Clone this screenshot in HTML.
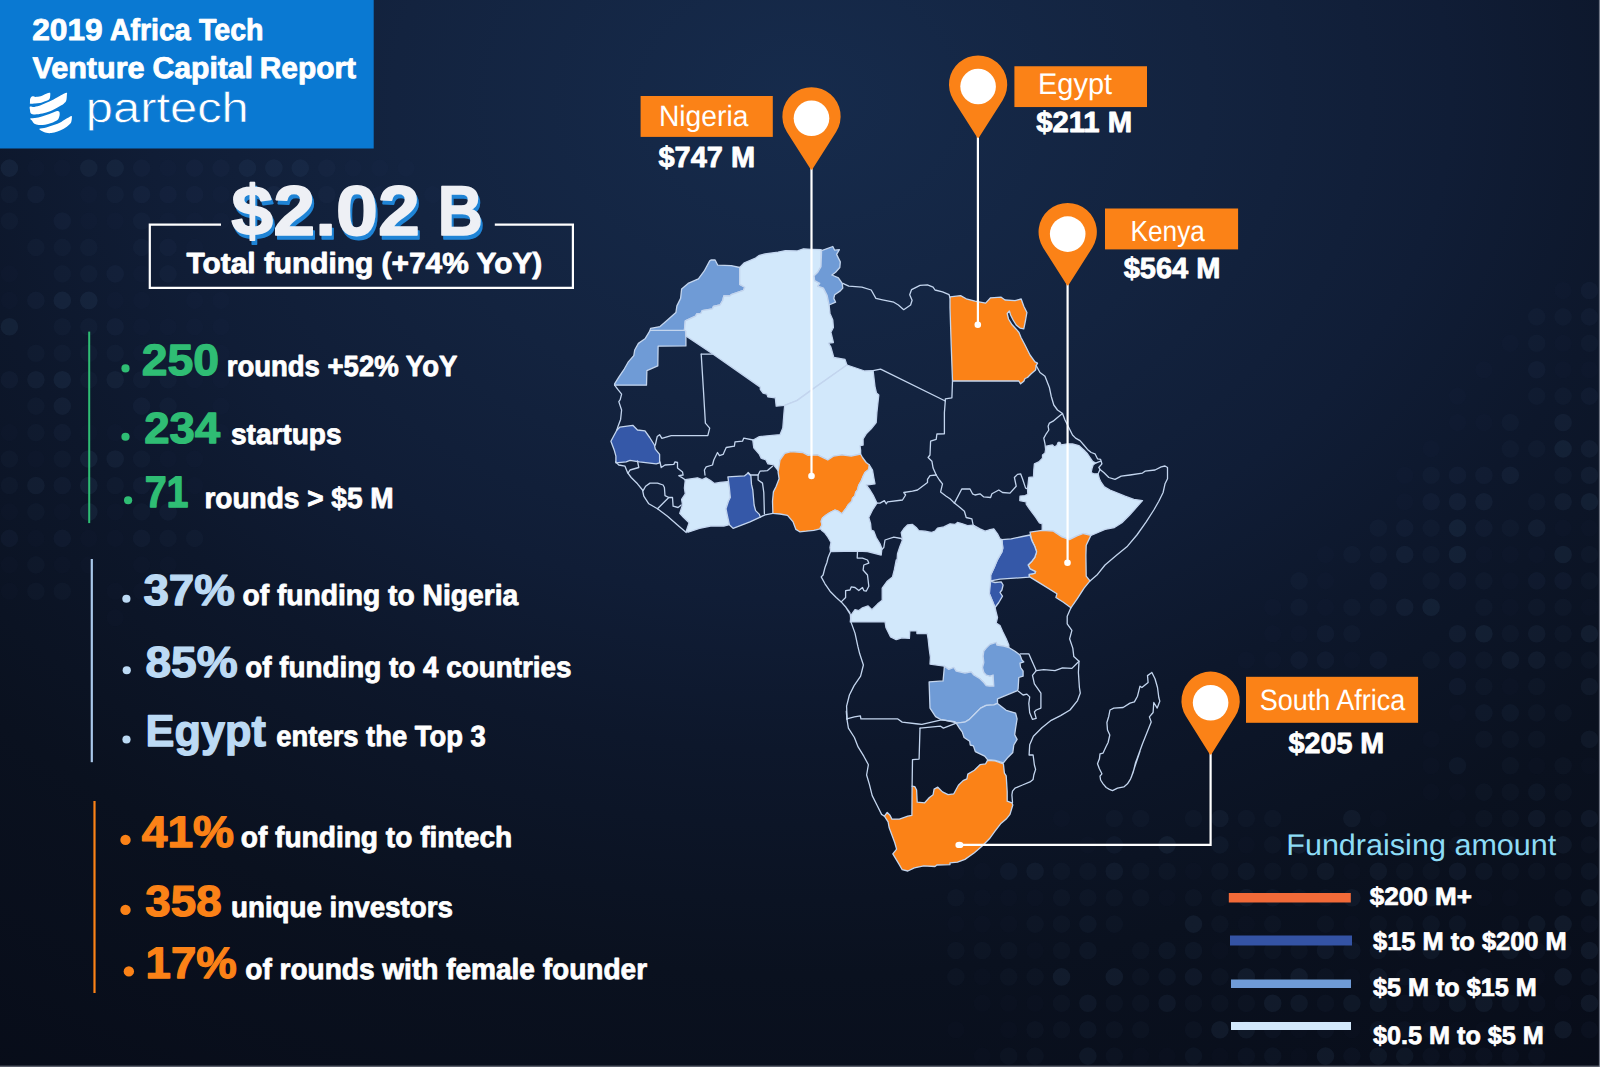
<!DOCTYPE html>
<html lang="en"><head><meta charset="utf-8"><title>2019 Africa Tech Venture Capital Report</title>
<style>
html,body{margin:0;padding:0;background:#0a1020;}
body{width:1600px;height:1067px;overflow:hidden;}
svg{display:block;font-family:"Liberation Sans",sans-serif;text-rendering:geometricPrecision;}
</style></head><body>
<svg width="1600" height="1067" viewBox="0 0 1600 1067">
<defs>
<radialGradient id="bg" gradientUnits="userSpaceOnUse" cx="800" cy="100" r="1250" gradientTransform="translate(800 0) scale(1.3 1) translate(-800 0)">
<stop offset="0" stop-color="#162b4c"/><stop offset="0.25" stop-color="#13233f"/><stop offset="0.4" stop-color="#101d36"/>
<stop offset="0.52" stop-color="#0d172b"/><stop offset="0.7" stop-color="#0a111f"/><stop offset="1" stop-color="#070b17"/>
</radialGradient>
<pattern id="dots" x="-3.8" y="154.9" width="26.45" height="26.45" patternUnits="userSpaceOnUse">
<circle cx="13.2" cy="13.2" r="8.8" fill="#5f86b8"/></pattern>
<radialGradient id="m1" gradientUnits="userSpaceOnUse" cx="230" cy="330" r="480" gradientTransform="translate(230 330) scale(1 0.75) translate(-230 -330)">
<stop offset="0" stop-color="#fff"/><stop offset="0.6" stop-color="#fff" stop-opacity="0.6"/><stop offset="1" stop-color="#fff" stop-opacity="0"/></radialGradient>
<radialGradient id="m2" gradientUnits="userSpaceOnUse" cx="1420" cy="900" r="420">
<stop offset="0" stop-color="#fff"/><stop offset="0.6" stop-color="#fff" stop-opacity="0.7"/><stop offset="1" stop-color="#fff" stop-opacity="0"/></radialGradient>
<filter id="sh" x="-5%" y="-20%" width="110%" height="150%" color-interpolation-filters="sRGB"><feOffset in="SourceAlpha" dx="2.3" dy="3.9" result="o"/><feFlood flood-color="#1f84d6"/><feComposite in2="o" operator="in"/><feMerge><feMergeNode/><feMergeNode in="SourceGraphic"/></feMerge></filter>
<mask id="dm" maskUnits="userSpaceOnUse" x="0" y="0" width="1600" height="1067">
<rect width="1600" height="1067" fill="url(#m1)"/><rect width="1600" height="1067" fill="url(#m2)"/></mask>
</defs>
<rect width="1600" height="1067" fill="url(#bg)"/>
<g fill="#6a93c8"><path opacity="0.017" d="M0.6 273.9a8.8 8.8 0 1 0 17.6 0a8.8 8.8 0 1 0-17.6 0M0.6 300.4a8.8 8.8 0 1 0 17.6 0a8.8 8.8 0 1 0-17.6 0M0.6 432.6a8.8 8.8 0 1 0 17.6 0a8.8 8.8 0 1 0-17.6 0M0.6 511.9a8.8 8.8 0 1 0 17.6 0a8.8 8.8 0 1 0-17.6 0M0.6 564.9a8.8 8.8 0 1 0 17.6 0a8.8 8.8 0 1 0-17.6 0M0.6 591.3a8.8 8.8 0 1 0 17.6 0a8.8 8.8 0 1 0-17.6 0M27.1 168.1a8.8 8.8 0 1 0 17.6 0a8.8 8.8 0 1 0-17.6 0M27.1 459.0a8.8 8.8 0 1 0 17.6 0a8.8 8.8 0 1 0-17.6 0M27.1 538.4a8.8 8.8 0 1 0 17.6 0a8.8 8.8 0 1 0-17.6 0M53.5 168.1a8.8 8.8 0 1 0 17.6 0a8.8 8.8 0 1 0-17.6 0M53.5 511.9a8.8 8.8 0 1 0 17.6 0a8.8 8.8 0 1 0-17.6 0M53.5 564.9a8.8 8.8 0 1 0 17.6 0a8.8 8.8 0 1 0-17.6 0M80.0 194.5a8.8 8.8 0 1 0 17.6 0a8.8 8.8 0 1 0-17.6 0M80.0 221.0a8.8 8.8 0 1 0 17.6 0a8.8 8.8 0 1 0-17.6 0M80.0 432.6a8.8 8.8 0 1 0 17.6 0a8.8 8.8 0 1 0-17.6 0M80.0 538.4a8.8 8.8 0 1 0 17.6 0a8.8 8.8 0 1 0-17.6 0M80.0 564.9a8.8 8.8 0 1 0 17.6 0a8.8 8.8 0 1 0-17.6 0M106.4 221.0a8.8 8.8 0 1 0 17.6 0a8.8 8.8 0 1 0-17.6 0M106.4 300.4a8.8 8.8 0 1 0 17.6 0a8.8 8.8 0 1 0-17.6 0M106.4 432.6a8.8 8.8 0 1 0 17.6 0a8.8 8.8 0 1 0-17.6 0M106.4 511.9a8.8 8.8 0 1 0 17.6 0a8.8 8.8 0 1 0-17.6 0M106.4 538.4a8.8 8.8 0 1 0 17.6 0a8.8 8.8 0 1 0-17.6 0M106.4 591.3a8.8 8.8 0 1 0 17.6 0a8.8 8.8 0 1 0-17.6 0M106.4 617.8a8.8 8.8 0 1 0 17.6 0a8.8 8.8 0 1 0-17.6 0M132.8 273.9a8.8 8.8 0 1 0 17.6 0a8.8 8.8 0 1 0-17.6 0M132.8 300.4a8.8 8.8 0 1 0 17.6 0a8.8 8.8 0 1 0-17.6 0M132.8 326.8a8.8 8.8 0 1 0 17.6 0a8.8 8.8 0 1 0-17.6 0M132.8 353.2a8.8 8.8 0 1 0 17.6 0a8.8 8.8 0 1 0-17.6 0M132.8 432.6a8.8 8.8 0 1 0 17.6 0a8.8 8.8 0 1 0-17.6 0M132.8 564.9a8.8 8.8 0 1 0 17.6 0a8.8 8.8 0 1 0-17.6 0M132.8 591.3a8.8 8.8 0 1 0 17.6 0a8.8 8.8 0 1 0-17.6 0M159.3 168.1a8.8 8.8 0 1 0 17.6 0a8.8 8.8 0 1 0-17.6 0M159.3 221.0a8.8 8.8 0 1 0 17.6 0a8.8 8.8 0 1 0-17.6 0M159.3 326.8a8.8 8.8 0 1 0 17.6 0a8.8 8.8 0 1 0-17.6 0M159.3 353.2a8.8 8.8 0 1 0 17.6 0a8.8 8.8 0 1 0-17.6 0M159.3 459.0a8.8 8.8 0 1 0 17.6 0a8.8 8.8 0 1 0-17.6 0M159.3 485.5a8.8 8.8 0 1 0 17.6 0a8.8 8.8 0 1 0-17.6 0M159.3 564.9a8.8 8.8 0 1 0 17.6 0a8.8 8.8 0 1 0-17.6 0M185.8 221.0a8.8 8.8 0 1 0 17.6 0a8.8 8.8 0 1 0-17.6 0M185.8 247.4a8.8 8.8 0 1 0 17.6 0a8.8 8.8 0 1 0-17.6 0M185.8 300.4a8.8 8.8 0 1 0 17.6 0a8.8 8.8 0 1 0-17.6 0M185.8 326.8a8.8 8.8 0 1 0 17.6 0a8.8 8.8 0 1 0-17.6 0M185.8 379.7a8.8 8.8 0 1 0 17.6 0a8.8 8.8 0 1 0-17.6 0M185.8 432.6a8.8 8.8 0 1 0 17.6 0a8.8 8.8 0 1 0-17.6 0M185.8 459.0a8.8 8.8 0 1 0 17.6 0a8.8 8.8 0 1 0-17.6 0M185.8 485.5a8.8 8.8 0 1 0 17.6 0a8.8 8.8 0 1 0-17.6 0M212.2 194.5a8.8 8.8 0 1 0 17.6 0a8.8 8.8 0 1 0-17.6 0M212.2 221.0a8.8 8.8 0 1 0 17.6 0a8.8 8.8 0 1 0-17.6 0M212.2 300.4a8.8 8.8 0 1 0 17.6 0a8.8 8.8 0 1 0-17.6 0M212.2 326.8a8.8 8.8 0 1 0 17.6 0a8.8 8.8 0 1 0-17.6 0M212.2 353.2a8.8 8.8 0 1 0 17.6 0a8.8 8.8 0 1 0-17.6 0M212.2 379.7a8.8 8.8 0 1 0 17.6 0a8.8 8.8 0 1 0-17.6 0M212.2 406.1a8.8 8.8 0 1 0 17.6 0a8.8 8.8 0 1 0-17.6 0M212.2 432.6a8.8 8.8 0 1 0 17.6 0a8.8 8.8 0 1 0-17.6 0M238.6 194.5a8.8 8.8 0 1 0 17.6 0a8.8 8.8 0 1 0-17.6 0M238.6 273.9a8.8 8.8 0 1 0 17.6 0a8.8 8.8 0 1 0-17.6 0M238.6 432.6a8.8 8.8 0 1 0 17.6 0a8.8 8.8 0 1 0-17.6 0M344.4 168.1a8.8 8.8 0 1 0 17.6 0a8.8 8.8 0 1 0-17.6 0M370.9 168.1a8.8 8.8 0 1 0 17.6 0a8.8 8.8 0 1 0-17.6 0M370.9 194.5a8.8 8.8 0 1 0 17.6 0a8.8 8.8 0 1 0-17.6 0M397.3 168.1a8.8 8.8 0 1 0 17.6 0a8.8 8.8 0 1 0-17.6 0M423.8 194.5a8.8 8.8 0 1 0 17.6 0a8.8 8.8 0 1 0-17.6 0M947.1 871.3a8.8 8.8 0 1 0 17.6 0a8.8 8.8 0 1 0-17.6 0M947.1 924.1a8.8 8.8 0 1 0 17.6 0a8.8 8.8 0 1 0-17.6 0M947.1 1029.7a8.8 8.8 0 1 0 17.6 0a8.8 8.8 0 1 0-17.6 0M973.5 871.3a8.8 8.8 0 1 0 17.6 0a8.8 8.8 0 1 0-17.6 0M973.5 897.7a8.8 8.8 0 1 0 17.6 0a8.8 8.8 0 1 0-17.6 0M973.5 924.1a8.8 8.8 0 1 0 17.6 0a8.8 8.8 0 1 0-17.6 0M973.5 976.9a8.8 8.8 0 1 0 17.6 0a8.8 8.8 0 1 0-17.6 0M973.5 1003.3a8.8 8.8 0 1 0 17.6 0a8.8 8.8 0 1 0-17.6 0M973.5 1056.1a8.8 8.8 0 1 0 17.6 0a8.8 8.8 0 1 0-17.6 0M999.9 897.7a8.8 8.8 0 1 0 17.6 0a8.8 8.8 0 1 0-17.6 0M999.9 924.1a8.8 8.8 0 1 0 17.6 0a8.8 8.8 0 1 0-17.6 0M999.9 1003.3a8.8 8.8 0 1 0 17.6 0a8.8 8.8 0 1 0-17.6 0M999.9 1029.7a8.8 8.8 0 1 0 17.6 0a8.8 8.8 0 1 0-17.6 0M1026.3 897.7a8.8 8.8 0 1 0 17.6 0a8.8 8.8 0 1 0-17.6 0M1026.3 950.5a8.8 8.8 0 1 0 17.6 0a8.8 8.8 0 1 0-17.6 0M1026.3 1003.3a8.8 8.8 0 1 0 17.6 0a8.8 8.8 0 1 0-17.6 0M1052.7 818.5a8.8 8.8 0 1 0 17.6 0a8.8 8.8 0 1 0-17.6 0M1079.1 844.9a8.8 8.8 0 1 0 17.6 0a8.8 8.8 0 1 0-17.6 0M1131.9 1056.1a8.8 8.8 0 1 0 17.6 0a8.8 8.8 0 1 0-17.6 0M1158.3 897.7a8.8 8.8 0 1 0 17.6 0a8.8 8.8 0 1 0-17.6 0M1158.3 1056.1a8.8 8.8 0 1 0 17.6 0a8.8 8.8 0 1 0-17.6 0M1184.7 871.3a8.8 8.8 0 1 0 17.6 0a8.8 8.8 0 1 0-17.6 0M1211.1 950.5a8.8 8.8 0 1 0 17.6 0a8.8 8.8 0 1 0-17.6 0M1211.1 1056.1a8.8 8.8 0 1 0 17.6 0a8.8 8.8 0 1 0-17.6 0M1237.5 660.1a8.8 8.8 0 1 0 17.6 0a8.8 8.8 0 1 0-17.6 0M1237.5 844.9a8.8 8.8 0 1 0 17.6 0a8.8 8.8 0 1 0-17.6 0M1237.5 924.1a8.8 8.8 0 1 0 17.6 0a8.8 8.8 0 1 0-17.6 0M1263.9 607.3a8.8 8.8 0 1 0 17.6 0a8.8 8.8 0 1 0-17.6 0M1263.9 633.7a8.8 8.8 0 1 0 17.6 0a8.8 8.8 0 1 0-17.6 0M1263.9 660.1a8.8 8.8 0 1 0 17.6 0a8.8 8.8 0 1 0-17.6 0M1290.3 633.7a8.8 8.8 0 1 0 17.6 0a8.8 8.8 0 1 0-17.6 0M1290.3 1029.7a8.8 8.8 0 1 0 17.6 0a8.8 8.8 0 1 0-17.6 0M1290.3 1056.1a8.8 8.8 0 1 0 17.6 0a8.8 8.8 0 1 0-17.6 0M1316.7 554.5a8.8 8.8 0 1 0 17.6 0a8.8 8.8 0 1 0-17.6 0M1316.7 580.9a8.8 8.8 0 1 0 17.6 0a8.8 8.8 0 1 0-17.6 0M1316.7 607.3a8.8 8.8 0 1 0 17.6 0a8.8 8.8 0 1 0-17.6 0M1343.1 660.1a8.8 8.8 0 1 0 17.6 0a8.8 8.8 0 1 0-17.6 0M1343.1 871.3a8.8 8.8 0 1 0 17.6 0a8.8 8.8 0 1 0-17.6 0M1343.1 924.1a8.8 8.8 0 1 0 17.6 0a8.8 8.8 0 1 0-17.6 0M1343.1 976.9a8.8 8.8 0 1 0 17.6 0a8.8 8.8 0 1 0-17.6 0M1343.1 1029.7a8.8 8.8 0 1 0 17.6 0a8.8 8.8 0 1 0-17.6 0M1369.5 818.5a8.8 8.8 0 1 0 17.6 0a8.8 8.8 0 1 0-17.6 0M1395.9 475.3a8.8 8.8 0 1 0 17.6 0a8.8 8.8 0 1 0-17.6 0M1395.9 501.7a8.8 8.8 0 1 0 17.6 0a8.8 8.8 0 1 0-17.6 0M1395.9 950.5a8.8 8.8 0 1 0 17.6 0a8.8 8.8 0 1 0-17.6 0M1422.3 448.9a8.8 8.8 0 1 0 17.6 0a8.8 8.8 0 1 0-17.6 0M1422.3 739.3a8.8 8.8 0 1 0 17.6 0a8.8 8.8 0 1 0-17.6 0M1422.3 765.7a8.8 8.8 0 1 0 17.6 0a8.8 8.8 0 1 0-17.6 0M1422.3 792.1a8.8 8.8 0 1 0 17.6 0a8.8 8.8 0 1 0-17.6 0M1422.3 844.9a8.8 8.8 0 1 0 17.6 0a8.8 8.8 0 1 0-17.6 0M1448.7 396.1a8.8 8.8 0 1 0 17.6 0a8.8 8.8 0 1 0-17.6 0M1448.7 422.5a8.8 8.8 0 1 0 17.6 0a8.8 8.8 0 1 0-17.6 0M1448.7 712.9a8.8 8.8 0 1 0 17.6 0a8.8 8.8 0 1 0-17.6 0M1448.7 792.1a8.8 8.8 0 1 0 17.6 0a8.8 8.8 0 1 0-17.6 0M1448.7 818.5a8.8 8.8 0 1 0 17.6 0a8.8 8.8 0 1 0-17.6 0M1448.7 976.9a8.8 8.8 0 1 0 17.6 0a8.8 8.8 0 1 0-17.6 0M1448.7 1029.7a8.8 8.8 0 1 0 17.6 0a8.8 8.8 0 1 0-17.6 0M1475.1 369.7a8.8 8.8 0 1 0 17.6 0a8.8 8.8 0 1 0-17.6 0M1475.1 422.5a8.8 8.8 0 1 0 17.6 0a8.8 8.8 0 1 0-17.6 0M1475.1 554.5a8.8 8.8 0 1 0 17.6 0a8.8 8.8 0 1 0-17.6 0M1475.1 897.7a8.8 8.8 0 1 0 17.6 0a8.8 8.8 0 1 0-17.6 0M1475.1 1029.7a8.8 8.8 0 1 0 17.6 0a8.8 8.8 0 1 0-17.6 0M1501.5 343.3a8.8 8.8 0 1 0 17.6 0a8.8 8.8 0 1 0-17.6 0M1501.5 554.5a8.8 8.8 0 1 0 17.6 0a8.8 8.8 0 1 0-17.6 0M1501.5 580.9a8.8 8.8 0 1 0 17.6 0a8.8 8.8 0 1 0-17.6 0M1501.5 607.3a8.8 8.8 0 1 0 17.6 0a8.8 8.8 0 1 0-17.6 0M1501.5 686.5a8.8 8.8 0 1 0 17.6 0a8.8 8.8 0 1 0-17.6 0M1501.5 897.7a8.8 8.8 0 1 0 17.6 0a8.8 8.8 0 1 0-17.6 0M1501.5 1029.7a8.8 8.8 0 1 0 17.6 0a8.8 8.8 0 1 0-17.6 0M1527.9 554.5a8.8 8.8 0 1 0 17.6 0a8.8 8.8 0 1 0-17.6 0M1527.9 765.7a8.8 8.8 0 1 0 17.6 0a8.8 8.8 0 1 0-17.6 0M1527.9 844.9a8.8 8.8 0 1 0 17.6 0a8.8 8.8 0 1 0-17.6 0M1527.9 976.9a8.8 8.8 0 1 0 17.6 0a8.8 8.8 0 1 0-17.6 0M1554.3 290.5a8.8 8.8 0 1 0 17.6 0a8.8 8.8 0 1 0-17.6 0M1554.3 343.3a8.8 8.8 0 1 0 17.6 0a8.8 8.8 0 1 0-17.6 0M1554.3 369.7a8.8 8.8 0 1 0 17.6 0a8.8 8.8 0 1 0-17.6 0M1554.3 528.1a8.8 8.8 0 1 0 17.6 0a8.8 8.8 0 1 0-17.6 0M1554.3 1003.3a8.8 8.8 0 1 0 17.6 0a8.8 8.8 0 1 0-17.6 0M1580.7 369.7a8.8 8.8 0 1 0 17.6 0a8.8 8.8 0 1 0-17.6 0M1580.7 528.1a8.8 8.8 0 1 0 17.6 0a8.8 8.8 0 1 0-17.6 0M1580.7 607.3a8.8 8.8 0 1 0 17.6 0a8.8 8.8 0 1 0-17.6 0M1580.7 765.7a8.8 8.8 0 1 0 17.6 0a8.8 8.8 0 1 0-17.6 0"/><path opacity="0.034" d="M0.6 194.5a8.8 8.8 0 1 0 17.6 0a8.8 8.8 0 1 0-17.6 0M0.6 221.0a8.8 8.8 0 1 0 17.6 0a8.8 8.8 0 1 0-17.6 0M0.6 459.0a8.8 8.8 0 1 0 17.6 0a8.8 8.8 0 1 0-17.6 0M0.6 485.5a8.8 8.8 0 1 0 17.6 0a8.8 8.8 0 1 0-17.6 0M27.1 247.4a8.8 8.8 0 1 0 17.6 0a8.8 8.8 0 1 0-17.6 0M27.1 353.2a8.8 8.8 0 1 0 17.6 0a8.8 8.8 0 1 0-17.6 0M27.1 406.1a8.8 8.8 0 1 0 17.6 0a8.8 8.8 0 1 0-17.6 0M27.1 432.6a8.8 8.8 0 1 0 17.6 0a8.8 8.8 0 1 0-17.6 0M27.1 511.9a8.8 8.8 0 1 0 17.6 0a8.8 8.8 0 1 0-17.6 0M27.1 564.9a8.8 8.8 0 1 0 17.6 0a8.8 8.8 0 1 0-17.6 0M27.1 591.3a8.8 8.8 0 1 0 17.6 0a8.8 8.8 0 1 0-17.6 0M53.5 247.4a8.8 8.8 0 1 0 17.6 0a8.8 8.8 0 1 0-17.6 0M53.5 273.9a8.8 8.8 0 1 0 17.6 0a8.8 8.8 0 1 0-17.6 0M53.5 326.8a8.8 8.8 0 1 0 17.6 0a8.8 8.8 0 1 0-17.6 0M53.5 353.2a8.8 8.8 0 1 0 17.6 0a8.8 8.8 0 1 0-17.6 0M53.5 459.0a8.8 8.8 0 1 0 17.6 0a8.8 8.8 0 1 0-17.6 0M53.5 591.3a8.8 8.8 0 1 0 17.6 0a8.8 8.8 0 1 0-17.6 0M80.0 247.4a8.8 8.8 0 1 0 17.6 0a8.8 8.8 0 1 0-17.6 0M80.0 273.9a8.8 8.8 0 1 0 17.6 0a8.8 8.8 0 1 0-17.6 0M80.0 326.8a8.8 8.8 0 1 0 17.6 0a8.8 8.8 0 1 0-17.6 0M80.0 353.2a8.8 8.8 0 1 0 17.6 0a8.8 8.8 0 1 0-17.6 0M80.0 379.7a8.8 8.8 0 1 0 17.6 0a8.8 8.8 0 1 0-17.6 0M106.4 194.5a8.8 8.8 0 1 0 17.6 0a8.8 8.8 0 1 0-17.6 0M106.4 353.2a8.8 8.8 0 1 0 17.6 0a8.8 8.8 0 1 0-17.6 0M106.4 485.5a8.8 8.8 0 1 0 17.6 0a8.8 8.8 0 1 0-17.6 0M132.8 168.1a8.8 8.8 0 1 0 17.6 0a8.8 8.8 0 1 0-17.6 0M132.8 221.0a8.8 8.8 0 1 0 17.6 0a8.8 8.8 0 1 0-17.6 0M132.8 247.4a8.8 8.8 0 1 0 17.6 0a8.8 8.8 0 1 0-17.6 0M132.8 379.7a8.8 8.8 0 1 0 17.6 0a8.8 8.8 0 1 0-17.6 0M132.8 459.0a8.8 8.8 0 1 0 17.6 0a8.8 8.8 0 1 0-17.6 0M132.8 511.9a8.8 8.8 0 1 0 17.6 0a8.8 8.8 0 1 0-17.6 0M159.3 194.5a8.8 8.8 0 1 0 17.6 0a8.8 8.8 0 1 0-17.6 0M159.3 247.4a8.8 8.8 0 1 0 17.6 0a8.8 8.8 0 1 0-17.6 0M159.3 273.9a8.8 8.8 0 1 0 17.6 0a8.8 8.8 0 1 0-17.6 0M159.3 379.7a8.8 8.8 0 1 0 17.6 0a8.8 8.8 0 1 0-17.6 0M159.3 406.1a8.8 8.8 0 1 0 17.6 0a8.8 8.8 0 1 0-17.6 0M159.3 538.4a8.8 8.8 0 1 0 17.6 0a8.8 8.8 0 1 0-17.6 0M185.8 168.1a8.8 8.8 0 1 0 17.6 0a8.8 8.8 0 1 0-17.6 0M185.8 194.5a8.8 8.8 0 1 0 17.6 0a8.8 8.8 0 1 0-17.6 0M185.8 538.4a8.8 8.8 0 1 0 17.6 0a8.8 8.8 0 1 0-17.6 0M212.2 168.1a8.8 8.8 0 1 0 17.6 0a8.8 8.8 0 1 0-17.6 0M291.5 194.5a8.8 8.8 0 1 0 17.6 0a8.8 8.8 0 1 0-17.6 0M318.0 168.1a8.8 8.8 0 1 0 17.6 0a8.8 8.8 0 1 0-17.6 0M318.0 194.5a8.8 8.8 0 1 0 17.6 0a8.8 8.8 0 1 0-17.6 0M344.4 194.5a8.8 8.8 0 1 0 17.6 0a8.8 8.8 0 1 0-17.6 0M947.1 897.7a8.8 8.8 0 1 0 17.6 0a8.8 8.8 0 1 0-17.6 0M947.1 950.5a8.8 8.8 0 1 0 17.6 0a8.8 8.8 0 1 0-17.6 0M947.1 976.9a8.8 8.8 0 1 0 17.6 0a8.8 8.8 0 1 0-17.6 0M973.5 950.5a8.8 8.8 0 1 0 17.6 0a8.8 8.8 0 1 0-17.6 0M999.9 950.5a8.8 8.8 0 1 0 17.6 0a8.8 8.8 0 1 0-17.6 0M999.9 976.9a8.8 8.8 0 1 0 17.6 0a8.8 8.8 0 1 0-17.6 0M999.9 1056.1a8.8 8.8 0 1 0 17.6 0a8.8 8.8 0 1 0-17.6 0M1026.3 924.1a8.8 8.8 0 1 0 17.6 0a8.8 8.8 0 1 0-17.6 0M1026.3 976.9a8.8 8.8 0 1 0 17.6 0a8.8 8.8 0 1 0-17.6 0M1026.3 1029.7a8.8 8.8 0 1 0 17.6 0a8.8 8.8 0 1 0-17.6 0M1026.3 1056.1a8.8 8.8 0 1 0 17.6 0a8.8 8.8 0 1 0-17.6 0M1052.7 871.3a8.8 8.8 0 1 0 17.6 0a8.8 8.8 0 1 0-17.6 0M1052.7 897.7a8.8 8.8 0 1 0 17.6 0a8.8 8.8 0 1 0-17.6 0M1052.7 924.1a8.8 8.8 0 1 0 17.6 0a8.8 8.8 0 1 0-17.6 0M1052.7 950.5a8.8 8.8 0 1 0 17.6 0a8.8 8.8 0 1 0-17.6 0M1052.7 1003.3a8.8 8.8 0 1 0 17.6 0a8.8 8.8 0 1 0-17.6 0M1052.7 1029.7a8.8 8.8 0 1 0 17.6 0a8.8 8.8 0 1 0-17.6 0M1079.1 871.3a8.8 8.8 0 1 0 17.6 0a8.8 8.8 0 1 0-17.6 0M1079.1 897.7a8.8 8.8 0 1 0 17.6 0a8.8 8.8 0 1 0-17.6 0M1105.5 818.5a8.8 8.8 0 1 0 17.6 0a8.8 8.8 0 1 0-17.6 0M1105.5 897.7a8.8 8.8 0 1 0 17.6 0a8.8 8.8 0 1 0-17.6 0M1105.5 924.1a8.8 8.8 0 1 0 17.6 0a8.8 8.8 0 1 0-17.6 0M1105.5 1003.3a8.8 8.8 0 1 0 17.6 0a8.8 8.8 0 1 0-17.6 0M1105.5 1029.7a8.8 8.8 0 1 0 17.6 0a8.8 8.8 0 1 0-17.6 0M1105.5 1056.1a8.8 8.8 0 1 0 17.6 0a8.8 8.8 0 1 0-17.6 0M1131.9 818.5a8.8 8.8 0 1 0 17.6 0a8.8 8.8 0 1 0-17.6 0M1131.9 871.3a8.8 8.8 0 1 0 17.6 0a8.8 8.8 0 1 0-17.6 0M1131.9 897.7a8.8 8.8 0 1 0 17.6 0a8.8 8.8 0 1 0-17.6 0M1131.9 950.5a8.8 8.8 0 1 0 17.6 0a8.8 8.8 0 1 0-17.6 0M1131.9 976.9a8.8 8.8 0 1 0 17.6 0a8.8 8.8 0 1 0-17.6 0M1131.9 1003.3a8.8 8.8 0 1 0 17.6 0a8.8 8.8 0 1 0-17.6 0M1131.9 1029.7a8.8 8.8 0 1 0 17.6 0a8.8 8.8 0 1 0-17.6 0M1158.3 871.3a8.8 8.8 0 1 0 17.6 0a8.8 8.8 0 1 0-17.6 0M1184.7 818.5a8.8 8.8 0 1 0 17.6 0a8.8 8.8 0 1 0-17.6 0M1184.7 897.7a8.8 8.8 0 1 0 17.6 0a8.8 8.8 0 1 0-17.6 0M1184.7 1003.3a8.8 8.8 0 1 0 17.6 0a8.8 8.8 0 1 0-17.6 0M1184.7 1029.7a8.8 8.8 0 1 0 17.6 0a8.8 8.8 0 1 0-17.6 0M1211.1 871.3a8.8 8.8 0 1 0 17.6 0a8.8 8.8 0 1 0-17.6 0M1211.1 897.7a8.8 8.8 0 1 0 17.6 0a8.8 8.8 0 1 0-17.6 0M1211.1 924.1a8.8 8.8 0 1 0 17.6 0a8.8 8.8 0 1 0-17.6 0M1211.1 976.9a8.8 8.8 0 1 0 17.6 0a8.8 8.8 0 1 0-17.6 0M1211.1 1003.3a8.8 8.8 0 1 0 17.6 0a8.8 8.8 0 1 0-17.6 0M1237.5 818.5a8.8 8.8 0 1 0 17.6 0a8.8 8.8 0 1 0-17.6 0M1237.5 950.5a8.8 8.8 0 1 0 17.6 0a8.8 8.8 0 1 0-17.6 0M1237.5 1003.3a8.8 8.8 0 1 0 17.6 0a8.8 8.8 0 1 0-17.6 0M1237.5 1056.1a8.8 8.8 0 1 0 17.6 0a8.8 8.8 0 1 0-17.6 0M1263.9 818.5a8.8 8.8 0 1 0 17.6 0a8.8 8.8 0 1 0-17.6 0M1263.9 844.9a8.8 8.8 0 1 0 17.6 0a8.8 8.8 0 1 0-17.6 0M1263.9 871.3a8.8 8.8 0 1 0 17.6 0a8.8 8.8 0 1 0-17.6 0M1263.9 924.1a8.8 8.8 0 1 0 17.6 0a8.8 8.8 0 1 0-17.6 0M1263.9 950.5a8.8 8.8 0 1 0 17.6 0a8.8 8.8 0 1 0-17.6 0M1263.9 976.9a8.8 8.8 0 1 0 17.6 0a8.8 8.8 0 1 0-17.6 0M1263.9 1029.7a8.8 8.8 0 1 0 17.6 0a8.8 8.8 0 1 0-17.6 0M1290.3 580.9a8.8 8.8 0 1 0 17.6 0a8.8 8.8 0 1 0-17.6 0M1290.3 607.3a8.8 8.8 0 1 0 17.6 0a8.8 8.8 0 1 0-17.6 0M1290.3 871.3a8.8 8.8 0 1 0 17.6 0a8.8 8.8 0 1 0-17.6 0M1290.3 897.7a8.8 8.8 0 1 0 17.6 0a8.8 8.8 0 1 0-17.6 0M1290.3 950.5a8.8 8.8 0 1 0 17.6 0a8.8 8.8 0 1 0-17.6 0M1316.7 844.9a8.8 8.8 0 1 0 17.6 0a8.8 8.8 0 1 0-17.6 0M1316.7 897.7a8.8 8.8 0 1 0 17.6 0a8.8 8.8 0 1 0-17.6 0M1316.7 924.1a8.8 8.8 0 1 0 17.6 0a8.8 8.8 0 1 0-17.6 0M1316.7 976.9a8.8 8.8 0 1 0 17.6 0a8.8 8.8 0 1 0-17.6 0M1316.7 1003.3a8.8 8.8 0 1 0 17.6 0a8.8 8.8 0 1 0-17.6 0M1316.7 1029.7a8.8 8.8 0 1 0 17.6 0a8.8 8.8 0 1 0-17.6 0M1343.1 554.5a8.8 8.8 0 1 0 17.6 0a8.8 8.8 0 1 0-17.6 0M1343.1 607.3a8.8 8.8 0 1 0 17.6 0a8.8 8.8 0 1 0-17.6 0M1343.1 633.7a8.8 8.8 0 1 0 17.6 0a8.8 8.8 0 1 0-17.6 0M1343.1 1056.1a8.8 8.8 0 1 0 17.6 0a8.8 8.8 0 1 0-17.6 0M1369.5 528.1a8.8 8.8 0 1 0 17.6 0a8.8 8.8 0 1 0-17.6 0M1369.5 554.5a8.8 8.8 0 1 0 17.6 0a8.8 8.8 0 1 0-17.6 0M1369.5 607.3a8.8 8.8 0 1 0 17.6 0a8.8 8.8 0 1 0-17.6 0M1369.5 844.9a8.8 8.8 0 1 0 17.6 0a8.8 8.8 0 1 0-17.6 0M1369.5 924.1a8.8 8.8 0 1 0 17.6 0a8.8 8.8 0 1 0-17.6 0M1395.9 871.3a8.8 8.8 0 1 0 17.6 0a8.8 8.8 0 1 0-17.6 0M1395.9 924.1a8.8 8.8 0 1 0 17.6 0a8.8 8.8 0 1 0-17.6 0M1395.9 976.9a8.8 8.8 0 1 0 17.6 0a8.8 8.8 0 1 0-17.6 0M1395.9 1003.3a8.8 8.8 0 1 0 17.6 0a8.8 8.8 0 1 0-17.6 0M1395.9 1029.7a8.8 8.8 0 1 0 17.6 0a8.8 8.8 0 1 0-17.6 0M1422.3 475.3a8.8 8.8 0 1 0 17.6 0a8.8 8.8 0 1 0-17.6 0M1422.3 528.1a8.8 8.8 0 1 0 17.6 0a8.8 8.8 0 1 0-17.6 0M1422.3 554.5a8.8 8.8 0 1 0 17.6 0a8.8 8.8 0 1 0-17.6 0M1422.3 580.9a8.8 8.8 0 1 0 17.6 0a8.8 8.8 0 1 0-17.6 0M1422.3 660.1a8.8 8.8 0 1 0 17.6 0a8.8 8.8 0 1 0-17.6 0M1422.3 871.3a8.8 8.8 0 1 0 17.6 0a8.8 8.8 0 1 0-17.6 0M1422.3 1003.3a8.8 8.8 0 1 0 17.6 0a8.8 8.8 0 1 0-17.6 0M1422.3 1029.7a8.8 8.8 0 1 0 17.6 0a8.8 8.8 0 1 0-17.6 0M1422.3 1056.1a8.8 8.8 0 1 0 17.6 0a8.8 8.8 0 1 0-17.6 0M1448.7 844.9a8.8 8.8 0 1 0 17.6 0a8.8 8.8 0 1 0-17.6 0M1448.7 1056.1a8.8 8.8 0 1 0 17.6 0a8.8 8.8 0 1 0-17.6 0M1475.1 580.9a8.8 8.8 0 1 0 17.6 0a8.8 8.8 0 1 0-17.6 0M1475.1 607.3a8.8 8.8 0 1 0 17.6 0a8.8 8.8 0 1 0-17.6 0M1475.1 660.1a8.8 8.8 0 1 0 17.6 0a8.8 8.8 0 1 0-17.6 0M1475.1 686.5a8.8 8.8 0 1 0 17.6 0a8.8 8.8 0 1 0-17.6 0M1475.1 739.3a8.8 8.8 0 1 0 17.6 0a8.8 8.8 0 1 0-17.6 0M1475.1 792.1a8.8 8.8 0 1 0 17.6 0a8.8 8.8 0 1 0-17.6 0M1475.1 818.5a8.8 8.8 0 1 0 17.6 0a8.8 8.8 0 1 0-17.6 0M1475.1 976.9a8.8 8.8 0 1 0 17.6 0a8.8 8.8 0 1 0-17.6 0M1475.1 1056.1a8.8 8.8 0 1 0 17.6 0a8.8 8.8 0 1 0-17.6 0M1501.5 422.5a8.8 8.8 0 1 0 17.6 0a8.8 8.8 0 1 0-17.6 0M1501.5 448.9a8.8 8.8 0 1 0 17.6 0a8.8 8.8 0 1 0-17.6 0M1501.5 528.1a8.8 8.8 0 1 0 17.6 0a8.8 8.8 0 1 0-17.6 0M1501.5 633.7a8.8 8.8 0 1 0 17.6 0a8.8 8.8 0 1 0-17.6 0M1501.5 739.3a8.8 8.8 0 1 0 17.6 0a8.8 8.8 0 1 0-17.6 0M1501.5 765.7a8.8 8.8 0 1 0 17.6 0a8.8 8.8 0 1 0-17.6 0M1501.5 792.1a8.8 8.8 0 1 0 17.6 0a8.8 8.8 0 1 0-17.6 0M1501.5 818.5a8.8 8.8 0 1 0 17.6 0a8.8 8.8 0 1 0-17.6 0M1501.5 844.9a8.8 8.8 0 1 0 17.6 0a8.8 8.8 0 1 0-17.6 0M1501.5 871.3a8.8 8.8 0 1 0 17.6 0a8.8 8.8 0 1 0-17.6 0M1501.5 924.1a8.8 8.8 0 1 0 17.6 0a8.8 8.8 0 1 0-17.6 0M1501.5 1056.1a8.8 8.8 0 1 0 17.6 0a8.8 8.8 0 1 0-17.6 0M1527.9 316.9a8.8 8.8 0 1 0 17.6 0a8.8 8.8 0 1 0-17.6 0M1527.9 343.3a8.8 8.8 0 1 0 17.6 0a8.8 8.8 0 1 0-17.6 0M1527.9 396.1a8.8 8.8 0 1 0 17.6 0a8.8 8.8 0 1 0-17.6 0M1527.9 448.9a8.8 8.8 0 1 0 17.6 0a8.8 8.8 0 1 0-17.6 0M1527.9 501.7a8.8 8.8 0 1 0 17.6 0a8.8 8.8 0 1 0-17.6 0M1527.9 607.3a8.8 8.8 0 1 0 17.6 0a8.8 8.8 0 1 0-17.6 0M1527.9 686.5a8.8 8.8 0 1 0 17.6 0a8.8 8.8 0 1 0-17.6 0M1527.9 712.9a8.8 8.8 0 1 0 17.6 0a8.8 8.8 0 1 0-17.6 0M1527.9 739.3a8.8 8.8 0 1 0 17.6 0a8.8 8.8 0 1 0-17.6 0M1527.9 871.3a8.8 8.8 0 1 0 17.6 0a8.8 8.8 0 1 0-17.6 0M1527.9 950.5a8.8 8.8 0 1 0 17.6 0a8.8 8.8 0 1 0-17.6 0M1527.9 1003.3a8.8 8.8 0 1 0 17.6 0a8.8 8.8 0 1 0-17.6 0M1527.9 1056.1a8.8 8.8 0 1 0 17.6 0a8.8 8.8 0 1 0-17.6 0M1554.3 316.9a8.8 8.8 0 1 0 17.6 0a8.8 8.8 0 1 0-17.6 0M1554.3 396.1a8.8 8.8 0 1 0 17.6 0a8.8 8.8 0 1 0-17.6 0M1554.3 475.3a8.8 8.8 0 1 0 17.6 0a8.8 8.8 0 1 0-17.6 0M1554.3 607.3a8.8 8.8 0 1 0 17.6 0a8.8 8.8 0 1 0-17.6 0M1554.3 633.7a8.8 8.8 0 1 0 17.6 0a8.8 8.8 0 1 0-17.6 0M1554.3 660.1a8.8 8.8 0 1 0 17.6 0a8.8 8.8 0 1 0-17.6 0M1554.3 712.9a8.8 8.8 0 1 0 17.6 0a8.8 8.8 0 1 0-17.6 0M1554.3 765.7a8.8 8.8 0 1 0 17.6 0a8.8 8.8 0 1 0-17.6 0M1554.3 792.1a8.8 8.8 0 1 0 17.6 0a8.8 8.8 0 1 0-17.6 0M1554.3 818.5a8.8 8.8 0 1 0 17.6 0a8.8 8.8 0 1 0-17.6 0M1554.3 871.3a8.8 8.8 0 1 0 17.6 0a8.8 8.8 0 1 0-17.6 0M1554.3 897.7a8.8 8.8 0 1 0 17.6 0a8.8 8.8 0 1 0-17.6 0M1554.3 950.5a8.8 8.8 0 1 0 17.6 0a8.8 8.8 0 1 0-17.6 0M1580.7 343.3a8.8 8.8 0 1 0 17.6 0a8.8 8.8 0 1 0-17.6 0M1580.7 554.5a8.8 8.8 0 1 0 17.6 0a8.8 8.8 0 1 0-17.6 0M1580.7 580.9a8.8 8.8 0 1 0 17.6 0a8.8 8.8 0 1 0-17.6 0M1580.7 660.1a8.8 8.8 0 1 0 17.6 0a8.8 8.8 0 1 0-17.6 0M1580.7 844.9a8.8 8.8 0 1 0 17.6 0a8.8 8.8 0 1 0-17.6 0M1580.7 924.1a8.8 8.8 0 1 0 17.6 0a8.8 8.8 0 1 0-17.6 0M1580.7 1029.7a8.8 8.8 0 1 0 17.6 0a8.8 8.8 0 1 0-17.6 0"/><path opacity="0.051" d="M0.6 379.7a8.8 8.8 0 1 0 17.6 0a8.8 8.8 0 1 0-17.6 0M0.6 538.4a8.8 8.8 0 1 0 17.6 0a8.8 8.8 0 1 0-17.6 0M27.1 194.5a8.8 8.8 0 1 0 17.6 0a8.8 8.8 0 1 0-17.6 0M27.1 300.4a8.8 8.8 0 1 0 17.6 0a8.8 8.8 0 1 0-17.6 0M53.5 221.0a8.8 8.8 0 1 0 17.6 0a8.8 8.8 0 1 0-17.6 0M53.5 432.6a8.8 8.8 0 1 0 17.6 0a8.8 8.8 0 1 0-17.6 0M53.5 485.5a8.8 8.8 0 1 0 17.6 0a8.8 8.8 0 1 0-17.6 0M53.5 538.4a8.8 8.8 0 1 0 17.6 0a8.8 8.8 0 1 0-17.6 0M106.4 273.9a8.8 8.8 0 1 0 17.6 0a8.8 8.8 0 1 0-17.6 0M106.4 326.8a8.8 8.8 0 1 0 17.6 0a8.8 8.8 0 1 0-17.6 0M132.8 194.5a8.8 8.8 0 1 0 17.6 0a8.8 8.8 0 1 0-17.6 0M132.8 406.1a8.8 8.8 0 1 0 17.6 0a8.8 8.8 0 1 0-17.6 0M132.8 485.5a8.8 8.8 0 1 0 17.6 0a8.8 8.8 0 1 0-17.6 0M132.8 538.4a8.8 8.8 0 1 0 17.6 0a8.8 8.8 0 1 0-17.6 0M159.3 511.9a8.8 8.8 0 1 0 17.6 0a8.8 8.8 0 1 0-17.6 0M265.1 194.5a8.8 8.8 0 1 0 17.6 0a8.8 8.8 0 1 0-17.6 0M999.9 871.3a8.8 8.8 0 1 0 17.6 0a8.8 8.8 0 1 0-17.6 0M1079.1 924.1a8.8 8.8 0 1 0 17.6 0a8.8 8.8 0 1 0-17.6 0M1079.1 950.5a8.8 8.8 0 1 0 17.6 0a8.8 8.8 0 1 0-17.6 0M1079.1 1029.7a8.8 8.8 0 1 0 17.6 0a8.8 8.8 0 1 0-17.6 0M1105.5 844.9a8.8 8.8 0 1 0 17.6 0a8.8 8.8 0 1 0-17.6 0M1158.3 950.5a8.8 8.8 0 1 0 17.6 0a8.8 8.8 0 1 0-17.6 0M1158.3 976.9a8.8 8.8 0 1 0 17.6 0a8.8 8.8 0 1 0-17.6 0M1184.7 950.5a8.8 8.8 0 1 0 17.6 0a8.8 8.8 0 1 0-17.6 0M1184.7 1056.1a8.8 8.8 0 1 0 17.6 0a8.8 8.8 0 1 0-17.6 0M1211.1 844.9a8.8 8.8 0 1 0 17.6 0a8.8 8.8 0 1 0-17.6 0M1237.5 871.3a8.8 8.8 0 1 0 17.6 0a8.8 8.8 0 1 0-17.6 0M1263.9 897.7a8.8 8.8 0 1 0 17.6 0a8.8 8.8 0 1 0-17.6 0M1263.9 1056.1a8.8 8.8 0 1 0 17.6 0a8.8 8.8 0 1 0-17.6 0M1290.3 660.1a8.8 8.8 0 1 0 17.6 0a8.8 8.8 0 1 0-17.6 0M1316.7 633.7a8.8 8.8 0 1 0 17.6 0a8.8 8.8 0 1 0-17.6 0M1316.7 660.1a8.8 8.8 0 1 0 17.6 0a8.8 8.8 0 1 0-17.6 0M1343.1 950.5a8.8 8.8 0 1 0 17.6 0a8.8 8.8 0 1 0-17.6 0M1369.5 580.9a8.8 8.8 0 1 0 17.6 0a8.8 8.8 0 1 0-17.6 0M1369.5 660.1a8.8 8.8 0 1 0 17.6 0a8.8 8.8 0 1 0-17.6 0M1369.5 950.5a8.8 8.8 0 1 0 17.6 0a8.8 8.8 0 1 0-17.6 0M1369.5 1029.7a8.8 8.8 0 1 0 17.6 0a8.8 8.8 0 1 0-17.6 0M1395.9 528.1a8.8 8.8 0 1 0 17.6 0a8.8 8.8 0 1 0-17.6 0M1395.9 844.9a8.8 8.8 0 1 0 17.6 0a8.8 8.8 0 1 0-17.6 0M1395.9 897.7a8.8 8.8 0 1 0 17.6 0a8.8 8.8 0 1 0-17.6 0M1422.3 501.7a8.8 8.8 0 1 0 17.6 0a8.8 8.8 0 1 0-17.6 0M1422.3 924.1a8.8 8.8 0 1 0 17.6 0a8.8 8.8 0 1 0-17.6 0M1448.7 475.3a8.8 8.8 0 1 0 17.6 0a8.8 8.8 0 1 0-17.6 0M1448.7 580.9a8.8 8.8 0 1 0 17.6 0a8.8 8.8 0 1 0-17.6 0M1448.7 660.1a8.8 8.8 0 1 0 17.6 0a8.8 8.8 0 1 0-17.6 0M1448.7 686.5a8.8 8.8 0 1 0 17.6 0a8.8 8.8 0 1 0-17.6 0M1448.7 765.7a8.8 8.8 0 1 0 17.6 0a8.8 8.8 0 1 0-17.6 0M1448.7 897.7a8.8 8.8 0 1 0 17.6 0a8.8 8.8 0 1 0-17.6 0M1448.7 924.1a8.8 8.8 0 1 0 17.6 0a8.8 8.8 0 1 0-17.6 0M1475.1 475.3a8.8 8.8 0 1 0 17.6 0a8.8 8.8 0 1 0-17.6 0M1475.1 528.1a8.8 8.8 0 1 0 17.6 0a8.8 8.8 0 1 0-17.6 0M1475.1 712.9a8.8 8.8 0 1 0 17.6 0a8.8 8.8 0 1 0-17.6 0M1475.1 871.3a8.8 8.8 0 1 0 17.6 0a8.8 8.8 0 1 0-17.6 0M1501.5 712.9a8.8 8.8 0 1 0 17.6 0a8.8 8.8 0 1 0-17.6 0M1501.5 1003.3a8.8 8.8 0 1 0 17.6 0a8.8 8.8 0 1 0-17.6 0M1527.9 369.7a8.8 8.8 0 1 0 17.6 0a8.8 8.8 0 1 0-17.6 0M1527.9 580.9a8.8 8.8 0 1 0 17.6 0a8.8 8.8 0 1 0-17.6 0M1527.9 792.1a8.8 8.8 0 1 0 17.6 0a8.8 8.8 0 1 0-17.6 0M1554.3 580.9a8.8 8.8 0 1 0 17.6 0a8.8 8.8 0 1 0-17.6 0M1580.7 290.5a8.8 8.8 0 1 0 17.6 0a8.8 8.8 0 1 0-17.6 0M1580.7 316.9a8.8 8.8 0 1 0 17.6 0a8.8 8.8 0 1 0-17.6 0M1580.7 396.1a8.8 8.8 0 1 0 17.6 0a8.8 8.8 0 1 0-17.6 0M1580.7 871.3a8.8 8.8 0 1 0 17.6 0a8.8 8.8 0 1 0-17.6 0M1580.7 976.9a8.8 8.8 0 1 0 17.6 0a8.8 8.8 0 1 0-17.6 0"/><path opacity="0.068" d="M27.1 379.7a8.8 8.8 0 1 0 17.6 0a8.8 8.8 0 1 0-17.6 0M27.1 485.5a8.8 8.8 0 1 0 17.6 0a8.8 8.8 0 1 0-17.6 0M53.5 406.1a8.8 8.8 0 1 0 17.6 0a8.8 8.8 0 1 0-17.6 0M80.0 168.1a8.8 8.8 0 1 0 17.6 0a8.8 8.8 0 1 0-17.6 0M106.4 168.1a8.8 8.8 0 1 0 17.6 0a8.8 8.8 0 1 0-17.6 0M106.4 379.7a8.8 8.8 0 1 0 17.6 0a8.8 8.8 0 1 0-17.6 0M106.4 459.0a8.8 8.8 0 1 0 17.6 0a8.8 8.8 0 1 0-17.6 0M238.6 168.1a8.8 8.8 0 1 0 17.6 0a8.8 8.8 0 1 0-17.6 0M265.1 168.1a8.8 8.8 0 1 0 17.6 0a8.8 8.8 0 1 0-17.6 0M291.5 168.1a8.8 8.8 0 1 0 17.6 0a8.8 8.8 0 1 0-17.6 0M1026.3 871.3a8.8 8.8 0 1 0 17.6 0a8.8 8.8 0 1 0-17.6 0M1079.1 1003.3a8.8 8.8 0 1 0 17.6 0a8.8 8.8 0 1 0-17.6 0M1079.1 1056.1a8.8 8.8 0 1 0 17.6 0a8.8 8.8 0 1 0-17.6 0M1105.5 871.3a8.8 8.8 0 1 0 17.6 0a8.8 8.8 0 1 0-17.6 0M1158.3 1003.3a8.8 8.8 0 1 0 17.6 0a8.8 8.8 0 1 0-17.6 0M1184.7 976.9a8.8 8.8 0 1 0 17.6 0a8.8 8.8 0 1 0-17.6 0M1211.1 818.5a8.8 8.8 0 1 0 17.6 0a8.8 8.8 0 1 0-17.6 0M1237.5 897.7a8.8 8.8 0 1 0 17.6 0a8.8 8.8 0 1 0-17.6 0M1237.5 1029.7a8.8 8.8 0 1 0 17.6 0a8.8 8.8 0 1 0-17.6 0M1290.3 1003.3a8.8 8.8 0 1 0 17.6 0a8.8 8.8 0 1 0-17.6 0M1316.7 871.3a8.8 8.8 0 1 0 17.6 0a8.8 8.8 0 1 0-17.6 0M1316.7 950.5a8.8 8.8 0 1 0 17.6 0a8.8 8.8 0 1 0-17.6 0M1343.1 818.5a8.8 8.8 0 1 0 17.6 0a8.8 8.8 0 1 0-17.6 0M1343.1 897.7a8.8 8.8 0 1 0 17.6 0a8.8 8.8 0 1 0-17.6 0M1343.1 1003.3a8.8 8.8 0 1 0 17.6 0a8.8 8.8 0 1 0-17.6 0M1369.5 871.3a8.8 8.8 0 1 0 17.6 0a8.8 8.8 0 1 0-17.6 0M1369.5 976.9a8.8 8.8 0 1 0 17.6 0a8.8 8.8 0 1 0-17.6 0M1369.5 1003.3a8.8 8.8 0 1 0 17.6 0a8.8 8.8 0 1 0-17.6 0M1369.5 1056.1a8.8 8.8 0 1 0 17.6 0a8.8 8.8 0 1 0-17.6 0M1395.9 554.5a8.8 8.8 0 1 0 17.6 0a8.8 8.8 0 1 0-17.6 0M1395.9 607.3a8.8 8.8 0 1 0 17.6 0a8.8 8.8 0 1 0-17.6 0M1395.9 1056.1a8.8 8.8 0 1 0 17.6 0a8.8 8.8 0 1 0-17.6 0M1422.3 897.7a8.8 8.8 0 1 0 17.6 0a8.8 8.8 0 1 0-17.6 0M1422.3 950.5a8.8 8.8 0 1 0 17.6 0a8.8 8.8 0 1 0-17.6 0M1448.7 501.7a8.8 8.8 0 1 0 17.6 0a8.8 8.8 0 1 0-17.6 0M1448.7 633.7a8.8 8.8 0 1 0 17.6 0a8.8 8.8 0 1 0-17.6 0M1448.7 871.3a8.8 8.8 0 1 0 17.6 0a8.8 8.8 0 1 0-17.6 0M1448.7 1003.3a8.8 8.8 0 1 0 17.6 0a8.8 8.8 0 1 0-17.6 0M1475.1 501.7a8.8 8.8 0 1 0 17.6 0a8.8 8.8 0 1 0-17.6 0M1501.5 475.3a8.8 8.8 0 1 0 17.6 0a8.8 8.8 0 1 0-17.6 0M1501.5 660.1a8.8 8.8 0 1 0 17.6 0a8.8 8.8 0 1 0-17.6 0M1501.5 950.5a8.8 8.8 0 1 0 17.6 0a8.8 8.8 0 1 0-17.6 0M1527.9 528.1a8.8 8.8 0 1 0 17.6 0a8.8 8.8 0 1 0-17.6 0M1527.9 633.7a8.8 8.8 0 1 0 17.6 0a8.8 8.8 0 1 0-17.6 0M1527.9 660.1a8.8 8.8 0 1 0 17.6 0a8.8 8.8 0 1 0-17.6 0M1527.9 818.5a8.8 8.8 0 1 0 17.6 0a8.8 8.8 0 1 0-17.6 0M1527.9 924.1a8.8 8.8 0 1 0 17.6 0a8.8 8.8 0 1 0-17.6 0M1527.9 1029.7a8.8 8.8 0 1 0 17.6 0a8.8 8.8 0 1 0-17.6 0M1554.3 422.5a8.8 8.8 0 1 0 17.6 0a8.8 8.8 0 1 0-17.6 0M1554.3 501.7a8.8 8.8 0 1 0 17.6 0a8.8 8.8 0 1 0-17.6 0M1554.3 844.9a8.8 8.8 0 1 0 17.6 0a8.8 8.8 0 1 0-17.6 0M1580.7 448.9a8.8 8.8 0 1 0 17.6 0a8.8 8.8 0 1 0-17.6 0M1580.7 475.3a8.8 8.8 0 1 0 17.6 0a8.8 8.8 0 1 0-17.6 0M1580.7 686.5a8.8 8.8 0 1 0 17.6 0a8.8 8.8 0 1 0-17.6 0M1580.7 739.3a8.8 8.8 0 1 0 17.6 0a8.8 8.8 0 1 0-17.6 0M1580.7 818.5a8.8 8.8 0 1 0 17.6 0a8.8 8.8 0 1 0-17.6 0M1580.7 897.7a8.8 8.8 0 1 0 17.6 0a8.8 8.8 0 1 0-17.6 0"/><path opacity="0.085" d="M0.6 168.1a8.8 8.8 0 1 0 17.6 0a8.8 8.8 0 1 0-17.6 0M0.6 326.8a8.8 8.8 0 1 0 17.6 0a8.8 8.8 0 1 0-17.6 0M53.5 300.4a8.8 8.8 0 1 0 17.6 0a8.8 8.8 0 1 0-17.6 0M53.5 379.7a8.8 8.8 0 1 0 17.6 0a8.8 8.8 0 1 0-17.6 0M80.0 300.4a8.8 8.8 0 1 0 17.6 0a8.8 8.8 0 1 0-17.6 0M80.0 459.0a8.8 8.8 0 1 0 17.6 0a8.8 8.8 0 1 0-17.6 0M80.0 485.5a8.8 8.8 0 1 0 17.6 0a8.8 8.8 0 1 0-17.6 0M80.0 511.9a8.8 8.8 0 1 0 17.6 0a8.8 8.8 0 1 0-17.6 0M1052.7 976.9a8.8 8.8 0 1 0 17.6 0a8.8 8.8 0 1 0-17.6 0M1105.5 976.9a8.8 8.8 0 1 0 17.6 0a8.8 8.8 0 1 0-17.6 0M1158.3 844.9a8.8 8.8 0 1 0 17.6 0a8.8 8.8 0 1 0-17.6 0M1184.7 924.1a8.8 8.8 0 1 0 17.6 0a8.8 8.8 0 1 0-17.6 0M1211.1 1029.7a8.8 8.8 0 1 0 17.6 0a8.8 8.8 0 1 0-17.6 0M1237.5 976.9a8.8 8.8 0 1 0 17.6 0a8.8 8.8 0 1 0-17.6 0M1263.9 1003.3a8.8 8.8 0 1 0 17.6 0a8.8 8.8 0 1 0-17.6 0M1290.3 844.9a8.8 8.8 0 1 0 17.6 0a8.8 8.8 0 1 0-17.6 0M1290.3 976.9a8.8 8.8 0 1 0 17.6 0a8.8 8.8 0 1 0-17.6 0M1316.7 1056.1a8.8 8.8 0 1 0 17.6 0a8.8 8.8 0 1 0-17.6 0M1422.3 607.3a8.8 8.8 0 1 0 17.6 0a8.8 8.8 0 1 0-17.6 0M1448.7 528.1a8.8 8.8 0 1 0 17.6 0a8.8 8.8 0 1 0-17.6 0M1448.7 554.5a8.8 8.8 0 1 0 17.6 0a8.8 8.8 0 1 0-17.6 0M1475.1 633.7a8.8 8.8 0 1 0 17.6 0a8.8 8.8 0 1 0-17.6 0M1475.1 1003.3a8.8 8.8 0 1 0 17.6 0a8.8 8.8 0 1 0-17.6 0M1554.3 448.9a8.8 8.8 0 1 0 17.6 0a8.8 8.8 0 1 0-17.6 0M1554.3 554.5a8.8 8.8 0 1 0 17.6 0a8.8 8.8 0 1 0-17.6 0M1554.3 924.1a8.8 8.8 0 1 0 17.6 0a8.8 8.8 0 1 0-17.6 0M1554.3 976.9a8.8 8.8 0 1 0 17.6 0a8.8 8.8 0 1 0-17.6 0M1554.3 1029.7a8.8 8.8 0 1 0 17.6 0a8.8 8.8 0 1 0-17.6 0M1580.7 501.7a8.8 8.8 0 1 0 17.6 0a8.8 8.8 0 1 0-17.6 0M1580.7 633.7a8.8 8.8 0 1 0 17.6 0a8.8 8.8 0 1 0-17.6 0M1580.7 950.5a8.8 8.8 0 1 0 17.6 0a8.8 8.8 0 1 0-17.6 0M1580.7 1003.3a8.8 8.8 0 1 0 17.6 0a8.8 8.8 0 1 0-17.6 0"/></g>

<g id="map" stroke="#c3d5ee" stroke-width="1.3" stroke-linejoin="round" stroke-linecap="round">
<polygon fill="#6f9bd6" points="711,260 715.1,260 717.8,265.2 731.2,265.6 739.7,267.5 739.7,284.4 744.8,287.2 743.4,290.4 731.2,294.7 729.8,296 723.8,296 722.8,300.3 720,305 713.4,306.5 712.5,308.8 702.2,310.6 700.9,313.4 696.6,314 695.6,316.2 685.3,320.9 684.4,330.3 685.9,331.2 685.9,345.9 658.1,346.2 657.8,365.9 646.9,370.6 646.5,385.2 614.6,385.2 614.6,383.8 618.8,377.2 624.4,368.8 628.1,362.2 633.8,355.6 634.7,350 638.4,343.4 645,338.8 649.7,331.2 650.6,328.4 660,326.6 667.5,320 675.9,312.5 676.9,305.9 680.6,298.4 681.6,289.1 688.1,283.4 698.4,278.8 704.1,271.2 709.7,260.9"/>
<polygon fill="#d2e8fb" points="739.7,267.5 744.4,262.8 755.6,258.1 759.4,255.3 765,254 778.1,252.1 785.6,250.6 796.9,251 803.4,248.8 811.9,249.3 821.2,249.7 821,266.6 817.8,272.2 814.1,275.9 814.6,280.6 819.7,283.4 817.8,286.2 823.4,288.1 827.2,295.6 829.1,305 830,313.4 832.8,320 833.4,327.5 830.9,332.2 833.4,342.5 828.5,343.1 830.9,347.2 833.8,357.5 845,359.4 846.9,365 813.8,388.4 796.9,400.6 784.7,405.3 776.2,406.2 775.3,397.8 767.8,396.9 766.9,394.1 763.1,393.1 760.3,389.4 760.3,387.1 712.5,353.8 685.9,335.9 685.9,331.2 684.4,330.3 685.3,320.9 695.6,316.2 696.6,314 700.9,313.4 702.2,310.6 712.5,308.8 713.4,306.5 720,305 722.8,300.3 723.8,296 729.8,296 731.2,294.7 743.4,290.4 744.8,287.2 739.7,284.4"/>
<polygon fill="#d2e8fb" points="846.9,365 864.7,371 873.1,370.6 875,386.6 876.5,393.1 878.8,395 876.9,412.5 876.2,422.5 871.2,428.8 866.2,433.8 863.1,438.8 863.1,445 860,445.6 860.6,450 860.6,454 851.2,456.2 841.9,454.8 833.4,456.2 827.8,460 824.1,458.1 817.5,454.8 808.1,455.3 802.5,452.5 791.2,451.6 784.7,453.4 780,460 779.1,472.2 777.2,469.4 773.4,464.7 767.8,463.8 765.9,460 761.2,458.1 759.4,454.4 753.8,447.8 752.8,440.3 759.4,436.6 780,434.7 782.8,428.1 784.1,411.2 784.7,405.3 796.9,400.6 813.8,388.4"/>
<polygon fill="#6f9bd6" points="821.6,250.6 832.8,246.5 834.7,250.2 839.4,249.7 836.6,254.4 838.4,258.1 840.3,261.9 839.8,267.5 835.6,272.2 831.9,275 838.4,277.8 842.2,283.4 842.8,288.1 840.3,290.9 834.7,294.7 833.8,298.4 835.6,302.2 829.1,305 827.2,295.6 823.4,288.1 817.8,286.2 819.7,283.4 814.6,280.6 814.1,275.9 817.8,272.2 821,266.6"/>
<polygon fill="#fb8217" points="950,296.9 960.6,295.6 966.2,298.8 975,301.2 985.6,303.1 990.6,297.8 1001.2,297.2 1005,300 1015,300.6 1021.2,299 1023.8,306.2 1026.9,312.5 1025.6,320 1023.8,328.8 1020,328.1 1016.2,325 1013.1,320 1010.6,315 1009.4,311 1007.2,313.5 1008.5,319 1012.1,324.8 1016.2,329.2 1019,332.5 1021,337.5 1025,345 1030,355 1035,361.9 1037.5,363.1 1036.2,365.6 1035.6,370 1031.2,373.8 1027.5,377.5 1025,378.5 1023.8,381.2 1020.6,383.8 1018.8,381 952.5,381 951.2,345 950,307.5"/>
<polygon fill="#3558a8" points="610.9,441.2 616.9,430 619.7,427.2 632.8,425.3 637.5,430 645,430.9 649.7,437.5 654.4,445 655.3,449.1 659.6,454.4 659.6,462.8 656.2,463.8 639.4,461.9 630,460.4 626.2,461.9 615.9,462.8 615.9,456.2 614.1,449.7"/>
<polygon fill="#d2e8fb" points="685.3,479.7 697.5,477.8 702.2,479.7 705.9,477.8 710.6,480.6 714.4,483.4 720,482.5 727.9,481.6 729.4,488.1 730.3,497.5 728.4,501.2 726,508.8 727.5,516.2 729.4,524.7 723.8,526 710.6,526 699.4,528.4 688.1,532.2 686.2,531.2 689.1,522.8 683.4,517.2 679.7,513.4 682.5,505 681.6,499.4 685.3,493.8 684.4,488.1"/>
<polygon fill="#3558a8" points="727.9,476.9 744.4,475.9 748.1,473.1 750.9,475.9 751.5,484.4 752.8,490 754.1,505 755.6,510.6 759.4,514.4 760.3,517.2 750,521.9 733.1,528.4 729.4,524.7 727.5,516.2 726,508.8 728.4,501.2 730.3,497.5 729.4,488.1"/>
<polygon fill="#fb8217" points="780,460 784.7,453.4 791.2,451.6 802.5,452.5 808.1,455.3 817.5,454.8 824.1,458.1 827.8,460 833.4,456.2 841.9,454.8 851.2,456.2 860.6,454 862.5,457.5 866.2,462.5 869.4,465 868.8,469.4 865,472.5 863.1,476.2 861.2,481.2 858.8,485 857.5,490 855.6,492.5 855,495.6 852.5,498.1 851.9,501.2 848.1,505 846.2,508.1 841.9,513.8 838.1,511.2 835,510 830,512.5 826.2,515 822.5,518.1 821.2,521.2 821.9,525 820,528.8 813.8,530.3 806.2,531.2 799.7,531.8 795.9,529.4 793.1,521.9 787.5,515.3 780,514 772.9,513.4 772.5,501.2 773.4,491.9 776.2,486.2 779.1,478.8 778.1,472.2"/>
<polygon fill="#d2e8fb" points="869.4,465 872.5,470 873.8,477.5 875,483.8 866.2,485 870,490 873.1,495 876.9,503.1 872.5,510 868.8,517.5 870.6,523.8 871.2,530 873.8,531.2 876.2,537.5 880,543.8 881.9,548.8 881.2,555 867.5,551.5 857.5,551.2 830.6,551.5 830,547.5 831,542.5 828.1,537.5 825,533.1 821.9,530.6 820,528.1 820,528.8 821.9,525 821.2,521.2 822.5,518.1 826.2,515 830,512.5 835,510 838.1,511.2 841.9,513.8 846.2,508.1 848.1,505 851.9,501.2 852.5,498.1 855,495.6 855.6,492.5 857.5,490 858.8,485 861.2,481.2 863.1,476.2 865,472.5 868.8,469.4 869.4,465"/>
<polygon fill="#d2e8fb" points="1045.6,449.4 1046.2,446.2 1052.5,445 1054.4,446.9 1056.9,445.6 1058.1,442.5 1060,442.5 1061.2,445 1067.5,443.8 1072.5,444 1078.8,445.6 1083.8,450 1087.5,453.8 1090,457.5 1092.5,461.2 1095.6,463.1 1093.1,465 1091.9,468.8 1091.2,472.5 1093.8,473.8 1098.1,473.8 1099.4,478.8 1101.2,482.5 1104.4,486.9 1110,490 1117.5,493.1 1125,496.2 1133.8,499.4 1142.5,500.6 1136.9,506.9 1129.4,515.3 1121.9,522.8 1114.4,527.5 1105,529.4 1095.6,533.5 1090.9,535.4 1083.4,533.5 1076.9,535.9 1069.4,539.7 1061.9,536.9 1053.4,531.2 1042.2,530.3 1042.2,523.8 1039.4,522.8 1035.6,517.2 1030,509.7 1026.2,504.1 1026.2,501.9 1019.8,500.6 1020,496.2 1025,495.6 1027.8,494.4 1027.5,488.8 1028.1,483.8 1028.8,477.5 1033.5,476.9 1033.8,470 1034.4,463.8 1038.8,461.9 1042.5,458.1 1042.5,455 1045,453.1"/>
<polygon fill="#fb8217" points="1030,532.2 1042.2,530.3 1053.4,531.2 1061.9,536.9 1069.4,539.7 1076.9,535.9 1083.4,533.5 1090.9,535.4 1086.2,545.3 1085.9,555.6 1086.2,576.2 1090,580.9 1084.1,588.1 1077.5,598.4 1070.9,607.8 1063.4,602.2 1055.9,597.5 1056.9,593.8 1041.9,584.4 1029.7,576.9 1029.1,574.4 1034.7,573.4 1035.6,571.6 1030,568.8 1028.1,565 1031.9,561.2 1034.7,557.5 1036.6,551.9 1034.7,546.2 1031.9,540.6"/>
<polygon fill="#3558a8" points="1001.9,539.7 1011.2,538.8 1022.5,536.5 1030,535 1031.9,540.6 1034.7,546.2 1036.6,551.9 1034.7,557.5 1031.9,561.2 1028.1,565 1030,568.8 1035.6,571.6 1034.7,573.4 1029.1,574.4 1029.1,577.2 1000,579.1 990.6,580.9 990.6,575.3 994.4,566.9 997.2,560.3 1001.9,551.9 1002.8,548.1"/>
<polygon fill="#3558a8" points="990,581.2 995,582.5 1001.2,581.9 1003.1,585 1001.9,590 1000,592.5 1002.5,596.2 998.8,602.5 995,607.5 992.5,601.2 989.4,593.8 987.5,588.8"/>
<polygon fill="#d2e8fb" points="850.3,621.9 850.9,615.3 855,609.7 858.8,610.6 862.5,607.8 868.1,605.9 871.9,609.7 877.5,604.1 882.2,600.3 882.2,588.1 886.9,581.6 892.5,576.9 894.4,569.4 896.2,560 896.9,562.5 897.5,553.8 900,546.2 902.5,540 901.2,532.5 903.8,528.8 907.5,525 912.5,524.4 916.2,527.5 918.8,530.6 925,531.2 931.2,532.5 935,531.2 937.5,528.1 943.8,526.9 950,523.8 955,524.4 957.5,522.5 962.5,523.8 967.5,525.6 973.1,525.2 980,528.8 985,531.2 988.8,530 993.8,528.8 997.5,533.8 1000,538.8 1001.9,539.7 1002.8,548.1 1001.9,551.9 997.2,560.3 994.4,566.9 990.6,575.3 990.6,581.5 989.4,593.8 992.5,601.2 995,607.5 996.2,612.5 997.5,617.5 996.2,623.1 1000,625.6 1002.5,631.2 1006.2,638.8 1008.8,645 1008.8,647.5 1003.8,646.2 996.9,645 996.2,642.5 990,644.4 986.2,648.1 983.8,651.2 983.1,656.2 983.8,662.5 982.5,667.5 983.8,672.5 986.2,675 990,676.2 993.1,675 993.8,686.2 989.4,686.2 986.2,685.6 983.8,682.5 980,678.8 973.8,675 971.2,671.9 965,673.1 956.2,671.2 953.8,667.5 948.8,669.4 944.4,666.2 930,664.1 930.4,657.5 929.1,648.1 928.1,638.8 927.2,633.5 916.9,633.5 916.9,630.9 909.8,630.9 909.4,638.4 901.9,637.8 896.2,639.7 890.6,636.9 885.9,627.5 885,621.5 853.1,621.9"/>
<polygon fill="#6f9bd6" points="944.4,666.2 948.8,669.4 953.8,667.5 956.2,671.2 965,673.1 971.2,671.9 973.8,675 980,678.8 983.8,682.5 986.2,685.6 989.4,686.2 993.8,686.2 993.1,675 990,676.2 986.2,675 983.8,672.5 982.5,667.5 983.8,662.5 983.1,656.2 983.8,651.2 986.2,648.1 990,644.4 996.2,642.5 996.9,645 1003.8,646.2 1008.8,647.5 1015,651.2 1020,655 1021.9,660 1023.8,661.9 1020,663.1 1020.6,667.5 1023.1,671.2 1023.1,676.2 1018.8,677.5 1018.1,688.8 1017.5,690.6 997.5,698.8 997.5,703.4 993.8,704.8 986.2,705.3 980.6,708.1 975,713.8 969.4,719.4 964.7,722.2 956.2,723.1 954.4,721.6 948.8,720.9 941.2,719.8 935.6,716.6 930,708.1 929.1,681.9 943.1,680.9"/>
<polygon fill="#6f9bd6" points="956.2,723.1 964.7,722.2 969.4,719.4 975,713.8 980.6,708.1 986.2,705.3 993.8,704.8 997.5,703.4 1006.2,710.3 1015.6,713.1 1017.1,718.8 1015.6,728.1 1014.7,734.7 1017.1,739.4 1013.8,745 1012.8,752.5 1008.1,757.2 1003.4,762.8 995,760.4 987.5,759.6 984.7,756.2 975.3,751.6 973.4,745.9 970.2,745 969.7,741.2 964.1,737.5 962.2,731.9 959.4,728.1"/>
<polygon fill="#fb8217" points="884.4,816.2 887.2,812.5 890,815.3 891.9,819.1 899.4,819.1 907.8,816.2 911.9,815.3 912.1,786.2 914.8,786.6 916.6,790 917.2,802.2 924.7,802.8 929.4,797.5 933.1,794.7 934.1,789.1 937.8,787.2 942.5,791.9 948.1,794.7 953.8,793.8 958.4,785.3 963.1,780.6 966.9,778.8 967.8,774.1 974.4,770.3 980,764.7 985.6,763.8 987.5,760.4 995,760.9 1003.4,763.8 1004.4,773.1 1006.2,775.9 1007.2,791.9 1007.2,801.2 1011.9,802.8 1012.8,805 1010,814.4 1006.2,819.1 1000.6,823.8 995,831.2 989.4,838.8 981.9,846.2 974.4,852.8 965,859.4 957.5,862.2 950,862.8 950,864.6 936.9,865 935,866.5 923.8,865.9 914.4,867.8 907.8,871 902.2,869.7 898.4,863.1 892.8,853.8 896.6,849.1 894.7,842.5 891.9,835 889.1,827.5 888.1,821.9"/>
<polyline fill="none" points="650.2,330.3 684.4,330.3"/>
<polyline fill="none" points="614.6,385.2 617.8,389.4 621.6,394.1 620.2,399.7 618.8,401.6 621.6,410 620.6,419.4 617.8,426.9 616.9,430"/>
<polyline fill="none" points="615.6,461.9 618.8,465 625,466.2 627.5,472.5 631.2,477.5 637.5,483.8 642.5,490 643.8,496.2 648.8,503.8 657.5,508.8 667.5,516.2 677.5,525 686.2,532.5"/>
<polyline fill="none" points="760.3,517.2 765,514.8 772.9,513.4"/>
<polyline fill="none" points="701.2,354.1 712.5,354.1"/>
<polyline fill="none" points="701.2,354.1 703.5,391.2 705.4,423.1 709.7,428.1 707.8,435.6 671.2,435.6 661.9,438.4 659.6,434.7 657.2,436.6 655.3,445"/>
<polyline fill="none" points="660,461.9 661.2,467.5 665,465 673.8,464.4 675,461.9 677.5,462.5 677.5,468.1 682.5,471.9 683.1,475 678.8,475.6 683.8,478.8 685,480"/>
<polyline fill="none" points="705,475 704.4,470 706.2,466.9 712.5,465 713.8,460 717.5,452.5 719.4,455.6 723.1,454.4 726.2,447.5 734.4,446.2 735,441.9 742.5,441.2 743.8,438.1 753.1,440"/>
<polyline fill="none" points="748.1,472.5 750.6,475 758.1,475 760,471.2 767.5,470.6 772.5,466.2"/>
<polyline fill="none" points="758.1,475 758.1,480 762.5,483.1 763.8,492.5 764.4,513.8"/>
<polyline fill="none" points="628.1,473.1 630,470 638.8,467.5 637.5,461"/>
<polyline fill="none" points="643.1,490.6 645.6,486.2 650,483.1 657.5,483.1 663.1,485 664.4,487.5 665,495.6 668.8,497.5 665,501.2 657.5,508.8"/>
<polyline fill="none" points="668.8,497.5 672.5,497.5 673.1,506.2 678.1,507.5 681.2,505"/>
<polyline fill="none" points="842.8,283.4 848.8,286.2 861.9,287.2 871.2,290 875.9,298.4 882.5,299.8 893.8,302.2 898.4,305 903.7,309.7 910.6,305 912.1,300.3 909.7,294.7 911.6,289.6 920,285.3 927.5,284.9 933.1,287.2 935,290 942.5,291.9 949.1,294.7 950,297.9"/>
<polyline fill="none" points="952.5,381 951.9,397.8 945.3,398.8 945.3,401 880.6,369.1 873.1,370.6"/>
<polyline fill="none" points="945.3,401 944.4,412.5 944.4,433.8 936.9,434 936.2,439.4 930.6,441.2 930,455 928.1,457.5 931.9,461.2 933.1,468.1 936.2,475"/>
<polyline fill="none" points="936.2,475 930,475.6 927.5,479.4 927.5,482.5 917.5,490 912.5,491.2 903.8,492.5 905.6,495 902.5,500 887.5,501.9 886.2,503.8 884.4,500.6 880,503.1 876.9,503.1"/>
<polyline fill="none" points="936.2,475 939.4,480 942.5,483.8 940.6,491.9 946.2,496.2 950,498.8 954.4,503.1 960,507.5 964.4,511.2 966.2,517.5 971.9,518.8 973.1,525 977.5,528.8"/>
<polyline fill="none" points="954.4,503.1 961.9,488.8 970,489 972.5,493.8 975,495 980,493.8 983.8,496.9 990.6,497.5 991.9,493.8 998.8,490 1002.5,492.5 1010,493.1 1016.2,486.2 1014.4,477.5 1017.5,474.4 1020.6,473.8 1022.5,478.8 1025.6,488.1 1027.8,488.8"/>
<polyline fill="none" points="881.2,550 883.8,547.5 885,540 893.8,537.2 901.2,538.5 902.5,540"/>
<polyline fill="none" points="1036.2,365.6 1040,372.5 1045,376.2 1049.4,387.5 1051.2,396.2 1053.8,405 1057.5,410 1062.5,413.5 1065,420 1068.8,427.5 1072.5,435 1075.6,438.1 1080,440.6 1083.8,445 1087.5,449.4 1091.2,452.5 1095,453.8 1097.5,458.8 1100.6,459.4 1101.9,463.8 1098.8,467.5 1100,469.4 1103.8,472.5 1108.8,477.5 1115,479.4 1121.2,476.2 1130,475 1142.5,473.1 1145,471.2 1155,470 1161.2,466.9 1165,466 1167.5,467.5 1167.5,478.8 1165,483.8 1163.1,492.5 1158.8,501.2 1153.8,510 1146.2,521.9 1136.9,535 1127.5,546.2 1116.2,555.6 1105,565 1097.5,574.4 1090,580.9"/>
<polyline fill="none" points="1062.5,413.5 1057.5,417.5 1053.1,421.2 1049.4,423.1 1048.1,426.2 1048.8,430 1046.2,433.8 1043.8,438.1 1045,443.8 1045.6,449.4"/>
<polyline fill="none" points="1095.6,463.1 1100.6,461.2"/>
<polyline fill="none" points="1100,469.4 1098.1,473.8"/>
<polyline fill="none" points="830.6,551.5 828.1,557.5 826.9,562.5 825,567.5 823.1,575 821.2,576.9 825,583.8 830,591.2 836.2,597.5 841.2,601.9 845,606.2 848.8,611.2 850,613 845.6,606.9 850.3,614.4 850.9,621.9 855,633.1 857.8,646.2 859.7,653.8 863.4,665 860.6,676.2 854.1,685.6 849.4,695 846.6,706.2 847.1,719.4"/>
<polyline fill="none" points="857.5,551.5 857.2,558.1 862.5,558.1 867.5,560 868.8,563.1 863.8,565 863.1,570 867.5,575 868.8,586.2 866.2,591.2 863.8,590.6 862.5,587.5 858.8,590.6 855,587.5 851.2,586.9 850,590 845.6,590.6 845.6,597.5 841.2,601.9"/>
<polyline fill="none" points="846.9,718.8 854.4,716.9 860.4,715.9 860.9,718.8 897.5,718.8 902.2,722.1 918.1,724 921.9,724.4 942.5,719.7 955.6,722.5"/>
<polyline fill="none" points="920,728.1 940.6,726.2 943.4,728.1 955.6,723.4"/>
<polyline fill="none" points="920,728.1 919.1,759.1 912.5,759.6 912.1,786.2"/>
<polyline fill="none" points="846.3,711.2 846.9,718.8 848.4,728.1 854.4,737.5 858.1,746.9 863.8,756.2 868.4,764.7 866.6,775 869.4,784.4 872.2,795.6 876.9,805 881.6,814.4 884.4,816.2"/>
<polyline fill="none" points="1070.9,607.8 1067.2,616.2 1067.2,623.8 1071.9,630.3 1069.6,638.8 1072.8,648.1 1073.8,656.6 1079,661.2 1078.4,672.5 1079.4,687.5 1080.3,693.1 1077.5,700.6 1070,710 1060.6,715.6 1051.2,720.3 1041.9,727.8 1033.4,736.2 1029.7,744.7 1029.1,755 1033.1,755 1034.4,765 1035.6,769.4 1033.8,775 1033.1,779.4 1030,781.9 1022.5,785 1015,788.1 1012.5,791.2 1011.9,795 1012.5,802.5"/>
<polyline fill="none" points="1079,661.2 1071.9,668.4 1062.5,667.8 1055,670.6 1043.8,669.7 1036.2,670.6"/>
<polyline fill="none" points="1020.3,653.8 1028.8,653.8 1032.5,662.2 1036.2,670.6 1032.5,675.3 1034.4,683.8 1040.9,693.1 1040.9,708.1 1036.2,710 1034.4,711.9 1036.2,718.4 1032.5,719.4 1029.7,712.8 1028.8,703.4 1029.7,696.9 1026.9,694.1 1023.1,695 1018.4,691.2"/>
<polyline fill="none" points="1151.9,672.5 1155,678.8 1157.5,687.5 1158.8,697.5 1159.8,701.2 1157.2,708.1 1153.8,702.5 1153.1,712.5 1149.4,716.9 1151.2,721.9 1147.5,731.2 1142.5,743.8 1137.5,757.5 1133.8,770 1131.2,777.5 1140,751.2 1135.6,762.5 1133.1,772.5 1130.6,778.8 1127.5,783.8 1123.8,786.9 1117.5,788.1 1112.5,790.6 1109.4,789.4 1106.2,787.5 1103.1,783.8 1100.6,780 1100,776.2 1101.9,773.8 1099.4,768.8 1097.5,763.8 1099.4,758.8 1100,753.8 1103.1,753.1 1106.2,746.2 1108.1,742.5 1109.8,735 1107.5,730 1106.9,722.5 1108.8,716.2 1110,710 1113.8,708.1 1123.1,707.5 1130,703.1 1134.4,701.9 1137.5,696.2 1140,686.2 1141.9,687.5 1148.1,682.5 1147.5,675.6 1151.9,672.5"/>
</g>
<g stroke="#fff" stroke-width="2.2" fill="none">
<path d="M811.5 168V476"/><path d="M977.9 136V324.7"/><path d="M1067.6 284V562.7"/><path d="M1210.6 753V844.9H959.4"/>
</g>
<circle cx="811.5" cy="476" r="3.3" fill="#fff"/><circle cx="977.8" cy="324.7" r="3.3" fill="#fff"/><circle cx="1067.5" cy="562.8" r="3.3" fill="#fff"/><ellipse cx="959.4" cy="844.9" rx="4" ry="3.2" fill="#fff"/>
<path d="M810.48 169.10 L786.90 131.98 A29.15 29.15 0 1 1 836.10 131.98 L812.52 169.10 Q811.50 170.30 810.48 169.10Z" fill="#fb8217"/><circle cx="811.5" cy="118.3" r="17.8" fill="#fff"/>
<path d="M977.08 137.30 L953.50 100.18 A29.15 29.15 0 1 1 1002.70 100.18 L979.12 137.30 Q978.10 138.50 977.08 137.30Z" fill="#fb8217"/><circle cx="978.1" cy="86.5" r="17.8" fill="#fff"/>
<path d="M1066.68 284.80 L1043.10 247.68 A29.15 29.15 0 1 1 1092.30 247.68 L1068.72 284.80 Q1067.70 286.00 1066.68 284.80Z" fill="#fb8217"/><circle cx="1067.7" cy="234.1" r="17.8" fill="#fff"/>
<path d="M1209.60 754.00 L1185.91 716.24 A29.15 29.15 0 1 1 1235.29 716.24 L1211.60 754.00 Q1210.60 755.20 1209.60 754.00Z" fill="#fb8217"/><circle cx="1210.6" cy="702.8" r="17.8" fill="#fff"/>
<rect x="640.6" y="96" width="132.2" height="40.9" fill="#fb8217"/>
<rect x="1014.4" y="66.25" width="132.6" height="40.8" fill="#fb8217"/>
<rect x="1105" y="208.5" width="133.1" height="40.9" fill="#fb8217"/>
<rect x="1246" y="676.8" width="172.1" height="46.0" fill="#fb8217"/>
<rect x="0" y="0" width="373.7" height="148.5" fill="#0a79d2"/>
<g fill="#fff">
<path d="M30.31 98.44C30.73 97.50 31.61 96.51 32.50 96.25C33.39 95.99 34.27 96.88 35.62 96.88C36.98 96.88 38.85 96.77 40.62 96.25C42.40 95.73 44.74 94.32 46.25 93.75C47.76 93.18 49.01 92.81 49.69 92.81C50.36 92.81 50.26 92.97 50.31 93.75C50.36 94.53 50.26 96.51 50.00 97.50C49.74 98.49 49.58 99.06 48.75 99.69C47.92 100.31 46.46 100.68 45.00 101.25C43.54 101.82 41.67 102.76 40.00 103.12C38.33 103.49 36.61 103.33 35.00 103.44C33.39 103.54 31.15 104.01 30.31 103.75C29.48 103.49 30.00 102.76 30.00 101.88C30.00 100.99 29.90 99.38 30.31 98.44Z"/>
<path d="M30.00 106.56C30.73 106.04 32.50 107.14 34.38 106.88C36.25 106.61 38.75 105.89 41.25 105.00C43.75 104.11 46.67 102.86 49.38 101.56C52.08 100.26 55.10 98.49 57.50 97.19C59.90 95.89 62.19 94.48 63.75 93.75C65.31 93.02 66.35 92.60 66.88 92.81C67.40 93.02 66.98 93.70 66.88 95.00C66.77 96.30 66.77 99.17 66.25 100.62C65.73 102.08 65.21 102.60 63.75 103.75C62.29 104.90 59.79 106.25 57.50 107.50C55.21 108.75 52.50 110.26 50.00 111.25C47.50 112.24 45.00 112.92 42.50 113.44C40.00 113.96 36.93 114.38 35.00 114.38C33.07 114.38 31.77 114.17 30.94 113.44C30.10 112.71 30.16 111.15 30.00 110.00C29.84 108.85 29.27 107.08 30.00 106.56Z"/>
<path d="M30.31 118.44C30.83 118.02 33.07 118.44 35.00 118.12C36.93 117.81 39.48 117.24 41.88 116.56C44.27 115.89 46.98 114.95 49.38 114.06C51.77 113.18 54.64 111.67 56.25 111.25C57.86 110.83 58.49 111.04 59.06 111.56C59.64 112.08 59.74 113.28 59.69 114.38C59.64 115.47 59.11 117.19 58.75 118.12C58.39 119.06 58.75 119.17 57.50 120.00C56.25 120.83 53.33 122.34 51.25 123.12C49.17 123.91 47.08 124.38 45.00 124.69C42.92 125.00 40.52 125.16 38.75 125.00C36.98 124.84 35.52 124.48 34.38 123.75C33.23 123.02 32.55 121.51 31.88 120.62C31.20 119.74 29.79 118.85 30.31 118.44Z"/>
<path d="M39.38 128.75C40.10 128.18 43.85 128.12 46.25 127.50C48.65 126.88 51.25 125.94 53.75 125.00C56.25 124.06 58.96 123.02 61.25 121.88C63.54 120.73 65.83 119.11 67.50 118.12C69.17 117.14 70.52 116.04 71.25 115.94C71.98 115.83 71.88 116.51 71.88 117.50C71.88 118.49 71.67 120.73 71.25 121.88C70.83 123.02 70.62 123.23 69.38 124.38C68.12 125.52 65.73 127.55 63.75 128.75C61.77 129.95 59.58 130.83 57.50 131.56C55.42 132.29 53.12 132.92 51.25 133.12C49.38 133.33 47.81 133.18 46.25 132.81C44.69 132.45 43.02 131.61 41.88 130.94C40.73 130.26 38.65 129.32 39.38 128.75Z"/>
</g>
<text transform="translate(85.82 122.3) scale(1.1634 1)" font-size="42.0" fill="#fff" stroke="#0a79d2" stroke-width="0.6">partech</text>
<path d="M221 224.7H149.8V287.9H572.9V224.7H494.8" fill="none" stroke="#fff" stroke-width="2.2"/>
<text y="235.26" font-size="70.52" font-weight="bold" fill="#eef0f5" stroke="#eef0f5" stroke-width="1.60" stroke-linejoin="round" filter="url(#sh)" xml:space="preserve"><tspan x="231.36" textLength="188.56" lengthAdjust="spacingAndGlyphs">$2.02</tspan> <tspan x="437.78" textLength="45.11" lengthAdjust="spacingAndGlyphs">B</tspan></text>
<rect x="88.2" y="331.6" width="2" height="191.5" fill="#2fbd74"/>
<rect x="90.7" y="559" width="2.2" height="203.2" fill="#a9c8ea"/>
<rect x="93.4" y="801" width="2.2" height="192" fill="#fb8217"/>
<circle cx="125.5" cy="368.4" r="4.1" fill="#2fbd74"/>
<circle cx="125.5" cy="436.75" r="4.1" fill="#2fbd74"/>
<circle cx="128.1" cy="500.25" r="4.1" fill="#2fbd74"/>
<circle cx="126.4" cy="598.75" r="4.1" fill="#bcdaf4"/>
<circle cx="126.75" cy="670.25" r="4.1" fill="#bcdaf4"/>
<circle cx="126.5" cy="739.5" r="4.1" fill="#bcdaf4"/>
<circle cx="125.5" cy="839.9" r="5.2" fill="#fb8217"/>
<circle cx="125.5" cy="909.9" r="5.2" fill="#fb8217"/>
<circle cx="128.85" cy="971.4" r="5.2" fill="#fb8217"/>
<rect x="1228.8" y="893" width="122.0" height="9.5" fill="#f26a38"/>
<rect x="1230" y="935.5" width="122.0" height="10.0" fill="#3453a4"/>
<rect x="1231" y="979.5" width="120.0" height="8.5" fill="#6f9bd6"/>
<rect x="1231" y="1022" width="120.0" height="8.0" fill="#d2e8fb"/>
<text y="40.36" font-size="30.24" font-weight="bold" fill="#ffffff" stroke="#ffffff" stroke-width="0.87" stroke-linejoin="round"  xml:space="preserve"><tspan x="32.25" textLength="70.49" lengthAdjust="spacingAndGlyphs">2019</tspan> <tspan x="109.97" textLength="80.67" lengthAdjust="spacingAndGlyphs">Africa</tspan> <tspan x="198.95" textLength="64.62" lengthAdjust="spacingAndGlyphs">Tech</tspan></text>
<text y="78.36" font-size="29.99" font-weight="bold" fill="#ffffff" stroke="#ffffff" stroke-width="0.87" stroke-linejoin="round"  xml:space="preserve"><tspan x="32.47" textLength="112.12" lengthAdjust="spacingAndGlyphs">Venture</tspan> <tspan x="152.56" textLength="100.41" lengthAdjust="spacingAndGlyphs">Capital</tspan> <tspan x="259.72" textLength="96.35" lengthAdjust="spacingAndGlyphs">Report</tspan></text>
<text transform="translate(186.54 273.38) scale(1.0276 1)" font-size="29.06" font-weight="bold" fill="#ffffff" stroke="#ffffff" stroke-width="0.84" stroke-linejoin="round" xml:space="preserve">Total funding (+74% YoY)</text>
<text transform="translate(141.77 375.02) scale(1.0577 1)" font-size="43.79" font-weight="bold" fill="#2fbd74" stroke="#2fbd74" stroke-width="1.28" stroke-linejoin="round" xml:space="preserve">250</text>
<text transform="translate(226.69 375.78) scale(0.9471 1)" font-size="29.06" font-weight="bold" fill="#ffffff" stroke="#ffffff" stroke-width="0.84" stroke-linejoin="round" xml:space="preserve">rounds +52% YoY</text>
<text transform="translate(144.18 442.82) scale(1.0438 1)" font-size="43.67" font-weight="bold" fill="#2fbd74" stroke="#2fbd74" stroke-width="1.28" stroke-linejoin="round" xml:space="preserve">234</text>
<text transform="translate(231.02 443.58) scale(0.9645 1)" font-size="29.06" font-weight="bold" fill="#ffffff" stroke="#ffffff" stroke-width="0.84" stroke-linejoin="round" xml:space="preserve">startups</text>
<text transform="translate(144.65 507.02) scale(0.8913 1)" font-size="44.28" font-weight="bold" fill="#2fbd74" stroke="#2fbd74" stroke-width="1.28" stroke-linejoin="round" xml:space="preserve">71</text>
<text transform="translate(204.43 507.78) scale(0.9646 1)" font-size="29.06" font-weight="bold" fill="#ffffff" stroke="#ffffff" stroke-width="0.84" stroke-linejoin="round" xml:space="preserve">rounds &gt; $5 M</text>
<text transform="translate(143.40 605.21) scale(1.0543 1)" font-size="43.37" font-weight="bold" fill="#bcdaf4" stroke="#bcdaf4" stroke-width="1.28" stroke-linejoin="round" xml:space="preserve">37%</text>
<text transform="translate(242.43 605.38) scale(0.9712 1)" font-size="29.06" font-weight="bold" fill="#ffffff" stroke="#ffffff" stroke-width="0.84" stroke-linejoin="round" xml:space="preserve">of funding to Nigeria</text>
<text transform="translate(145.39 676.63) scale(1.0588 1)" font-size="43.54" font-weight="bold" fill="#bcdaf4" stroke="#bcdaf4" stroke-width="1.28" stroke-linejoin="round" xml:space="preserve">85%</text>
<text transform="translate(245.27 676.78) scale(0.9583 1)" font-size="29.06" font-weight="bold" fill="#ffffff" stroke="#ffffff" stroke-width="0.84" stroke-linejoin="round" xml:space="preserve">of funding to 4 countries</text>
<text transform="translate(145.61 746.22) scale(0.9778 1)" font-size="44.33" font-weight="bold" fill="#bcdaf4" stroke="#bcdaf4" stroke-width="1.27" stroke-linejoin="round" xml:space="preserve">Egypt</text>
<text transform="translate(276.32 745.98) scale(0.9428 1)" font-size="29.06" font-weight="bold" fill="#ffffff" stroke="#ffffff" stroke-width="0.84" stroke-linejoin="round" xml:space="preserve">enters the Top 3</text>
<text transform="translate(141.75 846.82) scale(1.0414 1)" font-size="44.28" font-weight="bold" fill="#fb8217" stroke="#fb8217" stroke-width="1.28" stroke-linejoin="round" xml:space="preserve">41%</text>
<text transform="translate(240.73 846.58) scale(0.9673 1)" font-size="29.06" font-weight="bold" fill="#ffffff" stroke="#ffffff" stroke-width="0.84" stroke-linejoin="round" xml:space="preserve">of funding to fintech</text>
<text transform="translate(145.37 916.41) scale(1.0535 1)" font-size="43.35" font-weight="bold" fill="#fb8217" stroke="#fb8217" stroke-width="1.28" stroke-linejoin="round" xml:space="preserve">358</text>
<text transform="translate(231.02 916.58) scale(0.9547 1)" font-size="29.06" font-weight="bold" fill="#ffffff" stroke="#ffffff" stroke-width="0.84" stroke-linejoin="round" xml:space="preserve">unique investors</text>
<text transform="translate(145.58 977.82) scale(1.0297 1)" font-size="44.28" font-weight="bold" fill="#fb8217" stroke="#fb8217" stroke-width="1.28" stroke-linejoin="round" xml:space="preserve">17%</text>
<text transform="translate(245.26 978.58) scale(0.9651 1)" font-size="29.06" font-weight="bold" fill="#ffffff" stroke="#ffffff" stroke-width="0.84" stroke-linejoin="round" xml:space="preserve">of rounds with female founder</text>
<text transform="translate(658.93 125.80) scale(0.9611 1)" font-size="29.40" font-weight="normal" fill="#ffffff" xml:space="preserve">Nigeria</text>
<text transform="translate(658.49 167.18) scale(0.9972 1)" font-size="29.06" font-weight="bold" fill="#ffffff" stroke="#ffffff" stroke-width="0.84" stroke-linejoin="round" xml:space="preserve">$747 M</text>
<text transform="translate(1038.05 93.50) scale(0.9674 1)" font-size="29.92" font-weight="normal" fill="#ffffff" xml:space="preserve">Egypt</text>
<text transform="translate(1036.14 132.18) scale(1.0077 1)" font-size="29.06" font-weight="bold" fill="#ffffff" stroke="#ffffff" stroke-width="0.84" stroke-linejoin="round" xml:space="preserve">$211 M</text>
<text transform="translate(1130.55 240.80) scale(0.9025 1)" font-size="29.04" font-weight="normal" fill="#ffffff" xml:space="preserve">Kenya</text>
<text transform="translate(1123.64 278.18) scale(0.9990 1)" font-size="29.06" font-weight="bold" fill="#ffffff" stroke="#ffffff" stroke-width="0.84" stroke-linejoin="round" xml:space="preserve">$564 M</text>
<text transform="translate(1259.67 710.00) scale(0.9212 1)" font-size="29.34" font-weight="normal" fill="#ffffff" xml:space="preserve">South Africa</text>
<text transform="translate(1288.54 753.18) scale(0.9882 1)" font-size="29.06" font-weight="bold" fill="#ffffff" stroke="#ffffff" stroke-width="0.84" stroke-linejoin="round" xml:space="preserve">$205 M</text>
<text transform="translate(1286.21 855.20) scale(1.0257 1)" font-size="29.81" font-weight="normal" fill="#8ddcf6" xml:space="preserve">Fundraising amount</text>
<text transform="translate(1369.80 905.47) scale(1.0439 1)" font-size="24.96" font-weight="bold" fill="#ffffff" stroke="#ffffff" stroke-width="0.72" stroke-linejoin="round" xml:space="preserve">$200 M+</text>
<text transform="translate(1373.01 950.46) scale(0.9974 1)" font-size="25.53" font-weight="bold" fill="#ffffff" stroke="#ffffff" stroke-width="0.74" stroke-linejoin="round" xml:space="preserve">$15 M to $200 M</text>
<text transform="translate(1373.01 995.66) scale(0.9874 1)" font-size="25.51" font-weight="bold" fill="#ffffff" stroke="#ffffff" stroke-width="0.74" stroke-linejoin="round" xml:space="preserve">$5 M to $15 M</text>
<text transform="translate(1373.01 1043.67) scale(1.0018 1)" font-size="25.15" font-weight="bold" fill="#ffffff" stroke="#ffffff" stroke-width="0.72" stroke-linejoin="round" xml:space="preserve">$0.5 M to $5 M</text>
<rect x="0" y="1065.6" width="1600" height="1.4" fill="#5b5f6b"/><rect x="1598.9" y="0" width="1.1" height="1067" fill="#8a8f9c" opacity="0.8"/>
</svg></body></html>
